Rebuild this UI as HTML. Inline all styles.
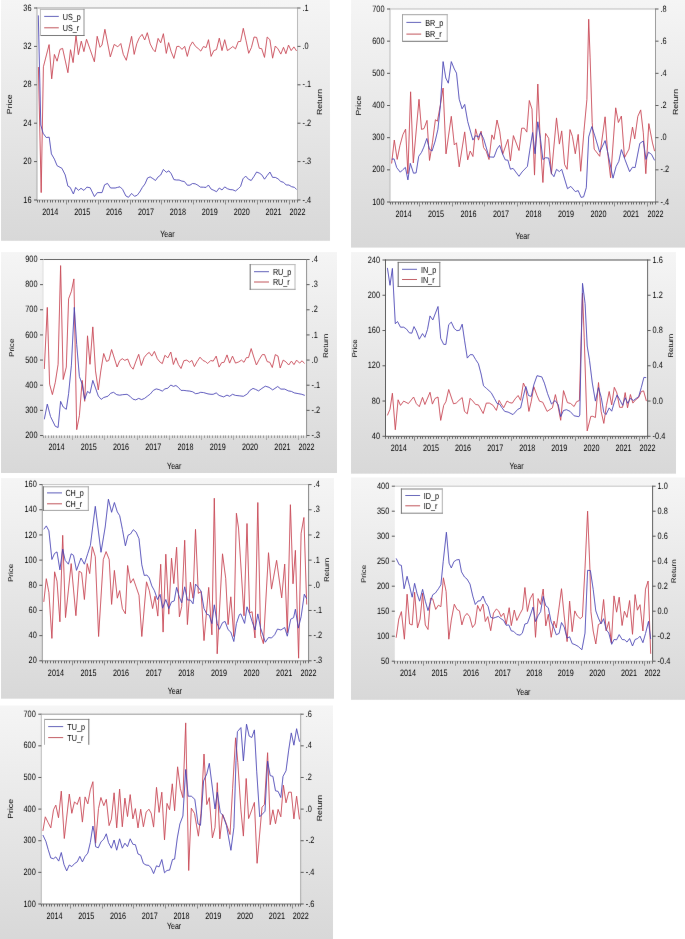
<!DOCTYPE html>
<html><head><meta charset="utf-8"><style>
html,body{margin:0;padding:0;background:#fff;width:685px;height:939px;overflow:hidden}
svg{display:block;font-family:"Liberation Sans", sans-serif}
text{text-rendering:geometricPrecision}
</style></head><body>
<svg width="685" height="939" viewBox="0 0 685 939">
<defs><filter id="bl" x="0" y="0" width="100%" height="100%" filterUnits="userSpaceOnUse"><feConvolveMatrix order="3" kernelMatrix="0.00087 0.02776 0.00087 0.02776 0.88549 0.02776 0.00087 0.02776 0.00087" edgeMode="duplicate" preserveAlpha="true"/></filter><filter id="bl2" x="0" y="0" width="100%" height="100%" filterUnits="userSpaceOnUse"><feConvolveMatrix order="3" kernelMatrix="0.00163 0.03713 0.00163 0.03713 0.84497 0.03713 0.00163 0.03713 0.00163" edgeMode="none" preserveAlpha="false"/></filter><linearGradient id="g" x1="0" y1="0" x2="0" y2="1"><stop offset="0" stop-color="#f5f5f5"/><stop offset="1" stop-color="#d8d8d8"/></linearGradient></defs>
<g filter="url(#bl)">
<rect x="0" y="0" width="685" height="939" fill="#fff"/>
<rect x="1" y="0" width="329" height="240.8" fill="url(#g)"/>
<rect x="37" y="8" width="260.50" height="192.00" fill="#fff"/>
<clipPath id="c0"><rect x="37" y="8" width="260.50" height="192.00"/></clipPath>
<polyline clip-path="url(#c0)" points="38.4,67.0 41.2,192.6 43.4,66.8 49.1,44.6 51.7,78.9 54.4,54.4 57.1,61.2 60.0,49.4 62.6,48.4 67.9,72.7 70.5,49.7 73.1,62.6 76.0,35.5 78.4,54.7 81.3,41.1 83.9,51.6 86.5,39.2 90.2,49.7 94.4,61.8 97.2,36.3 100.0,47.3 102.0,45.0 104.9,29.3 110.3,56.9 114.2,44.4 117.8,46.8 120.8,43.5 123.3,54.4 126.3,60.3 131.6,36.3 134.2,54.4 136.8,43.6 139.4,37.6 142.1,34.4 144.7,40.0 147.3,32.7 150.2,43.9 152.9,49.2 155.2,51.8 158.1,38.4 160.7,42.9 163.4,33.7 166.3,53.4 168.6,42.6 171.2,51.8 173.9,58.4 176.8,46.5 179.1,46.3 182.0,49.4 184.7,46.3 187.3,56.4 189.9,46.3 192.5,41.9 195.6,46.5 198.2,48.5 200.8,51.1 203.4,46.5 206.1,47.6 208.5,39.7 211.1,56.4 213.8,50.6 216.5,49.6 219.3,38.1 222.0,50.6 224.7,39.7 227.4,50.6 230.1,48.7 232.8,46.5 235.5,48.9 238.3,41.5 240.6,41.5 243.3,28.3 246.0,40.5 248.7,53.3 251.4,47.6 254.1,37.0 256.6,37.4 259.3,48.3 261.7,48.7 264.5,57.4 267.2,37.0 269.9,39.7 272.6,58.2 275.3,46.0 278.0,48.9 280.8,54.1 283.5,47.3 285.9,53.7 288.5,45.1 291.2,50.6 293.9,46.9 296.6,51.0" fill="none" stroke="#c43444" stroke-width="0.85" stroke-linejoin="round"/>
<polyline clip-path="url(#c0)" points="38.3,15.4 40.8,125.0 43.1,133.2 46.2,137.5 49.2,137.2 51.4,153.9 54.4,159.1 57.1,165.7 61.9,168.3 65.2,174.9 67.9,186.1 70.2,187.4 73.4,194.0 75.7,187.4 78.4,190.4 81.0,188.3 83.9,190.4 86.9,187.1 90.2,187.8 94.4,196.6 97.4,192.6 102.0,192.6 104.6,184.8 107.5,183.4 110.6,188.0 115.2,188.0 117.5,187.4 120.0,186.8 122.6,189.4 125.9,196.0 128.5,197.3 131.6,193.4 134.5,196.3 137.1,195.3 139.7,192.0 142.3,187.5 145.0,183.9 147.6,177.9 150.2,176.9 152.9,178.6 155.5,180.5 158.1,176.9 160.7,175.0 163.4,169.4 166.3,172.3 168.9,170.8 171.2,173.7 173.9,179.6 176.5,180.0 179.1,180.0 181.8,181.1 184.4,181.5 187.3,185.2 189.9,185.2 192.5,183.5 195.2,183.8 197.8,185.2 200.4,187.1 203.4,187.2 206.1,187.4 208.4,185.0 211.1,189.1 213.8,190.3 216.5,191.7 219.3,188.0 222.0,190.0 224.7,186.9 227.4,188.7 230.1,189.6 232.8,189.8 235.5,191.0 238.3,188.7 240.6,186.4 243.0,178.8 245.7,176.1 248.4,179.2 251.2,180.5 253.9,176.5 256.6,172.0 259.3,173.1 261.7,174.7 264.5,179.2 267.2,175.5 269.9,172.0 272.6,177.4 275.3,177.4 278.0,178.8 280.8,181.5 283.5,182.3 286.2,185.0 288.9,185.0 291.6,186.7 294.3,187.3 296.6,189.4" fill="none" stroke="#3a34b0" stroke-width="0.85" stroke-linejoin="round"/>
<line x1="37" y1="8" x2="297.5" y2="8" stroke="#a0a0a0" stroke-width="1" stroke-linecap="square"/>
<line x1="297.5" y1="8" x2="297.5" y2="200" stroke="#b8b8b8" stroke-width="1" stroke-linecap="square"/>
<line x1="37" y1="200" x2="297.5" y2="200" stroke="#a8a8a8" stroke-width="1" stroke-linecap="square"/>
<line x1="37" y1="8" x2="37" y2="200" stroke="#aaaaaa" stroke-width="1" stroke-linecap="square"/>
<line x1="34" y1="8.00" x2="37" y2="8.00" stroke="#555" stroke-width="1"/>

<line x1="34" y1="46.40" x2="37" y2="46.40" stroke="#555" stroke-width="1"/>

<line x1="34" y1="84.80" x2="37" y2="84.80" stroke="#555" stroke-width="1"/>

<line x1="34" y1="123.20" x2="37" y2="123.20" stroke="#555" stroke-width="1"/>

<line x1="34" y1="161.60" x2="37" y2="161.60" stroke="#555" stroke-width="1"/>

<line x1="34" y1="200.00" x2="37" y2="200.00" stroke="#555" stroke-width="1"/>

<line x1="297.5" y1="8.00" x2="300.5" y2="8.00" stroke="#555" stroke-width="1"/>

<line x1="297.5" y1="46.40" x2="300.5" y2="46.40" stroke="#555" stroke-width="1"/>

<line x1="297.5" y1="84.80" x2="300.5" y2="84.80" stroke="#555" stroke-width="1"/>

<line x1="297.5" y1="123.20" x2="300.5" y2="123.20" stroke="#555" stroke-width="1"/>

<line x1="297.5" y1="161.60" x2="300.5" y2="161.60" stroke="#555" stroke-width="1"/>

<line x1="297.5" y1="200.00" x2="300.5" y2="200.00" stroke="#555" stroke-width="1"/>

<line x1="37.50" y1="200" x2="37.50" y2="202.5" stroke="#666" stroke-width="1"/>
<line x1="39.50" y1="200" x2="39.50" y2="202.5" stroke="#666" stroke-width="1"/>
<line x1="42.50" y1="200" x2="42.50" y2="202.5" stroke="#666" stroke-width="1"/>
<line x1="44.50" y1="200" x2="44.50" y2="202.5" stroke="#666" stroke-width="1"/>
<line x1="47.50" y1="200" x2="47.50" y2="202.5" stroke="#666" stroke-width="1"/>
<line x1="50.50" y1="200" x2="50.50" y2="202.5" stroke="#666" stroke-width="1"/>
<line x1="52.50" y1="200" x2="52.50" y2="202.5" stroke="#666" stroke-width="1"/>
<line x1="55.50" y1="200" x2="55.50" y2="202.5" stroke="#666" stroke-width="1"/>
<line x1="58.50" y1="200" x2="58.50" y2="202.5" stroke="#666" stroke-width="1"/>
<line x1="60.50" y1="200" x2="60.50" y2="202.5" stroke="#666" stroke-width="1"/>
<line x1="63.50" y1="200" x2="63.50" y2="202.5" stroke="#666" stroke-width="1"/>
<line x1="66.50" y1="200" x2="66.50" y2="204.5" stroke="#8a8a8a" stroke-width="1"/>
<line x1="68.50" y1="200" x2="68.50" y2="202.5" stroke="#666" stroke-width="1"/>
<line x1="71.50" y1="200" x2="71.50" y2="202.5" stroke="#666" stroke-width="1"/>
<line x1="74.50" y1="200" x2="74.50" y2="202.5" stroke="#666" stroke-width="1"/>
<line x1="76.50" y1="200" x2="76.50" y2="202.5" stroke="#666" stroke-width="1"/>
<line x1="79.50" y1="200" x2="79.50" y2="202.5" stroke="#666" stroke-width="1"/>
<line x1="82.50" y1="200" x2="82.50" y2="202.5" stroke="#666" stroke-width="1"/>
<line x1="84.50" y1="200" x2="84.50" y2="202.5" stroke="#666" stroke-width="1"/>
<line x1="87.50" y1="200" x2="87.50" y2="202.5" stroke="#666" stroke-width="1"/>
<line x1="90.50" y1="200" x2="90.50" y2="202.5" stroke="#666" stroke-width="1"/>
<line x1="92.50" y1="200" x2="92.50" y2="202.5" stroke="#666" stroke-width="1"/>
<line x1="95.50" y1="200" x2="95.50" y2="202.5" stroke="#666" stroke-width="1"/>
<line x1="98.50" y1="200" x2="98.50" y2="204.5" stroke="#8a8a8a" stroke-width="1"/>
<line x1="100.50" y1="200" x2="100.50" y2="202.5" stroke="#666" stroke-width="1"/>
<line x1="103.50" y1="200" x2="103.50" y2="202.5" stroke="#666" stroke-width="1"/>
<line x1="106.50" y1="200" x2="106.50" y2="202.5" stroke="#666" stroke-width="1"/>
<line x1="108.50" y1="200" x2="108.50" y2="202.5" stroke="#666" stroke-width="1"/>
<line x1="111.50" y1="200" x2="111.50" y2="202.5" stroke="#666" stroke-width="1"/>
<line x1="114.50" y1="200" x2="114.50" y2="202.5" stroke="#666" stroke-width="1"/>
<line x1="116.50" y1="200" x2="116.50" y2="202.5" stroke="#666" stroke-width="1"/>
<line x1="119.50" y1="200" x2="119.50" y2="202.5" stroke="#666" stroke-width="1"/>
<line x1="122.50" y1="200" x2="122.50" y2="202.5" stroke="#666" stroke-width="1"/>
<line x1="124.50" y1="200" x2="124.50" y2="202.5" stroke="#666" stroke-width="1"/>
<line x1="127.50" y1="200" x2="127.50" y2="202.5" stroke="#666" stroke-width="1"/>
<line x1="130.50" y1="200" x2="130.50" y2="204.5" stroke="#8a8a8a" stroke-width="1"/>
<line x1="132.50" y1="200" x2="132.50" y2="202.5" stroke="#666" stroke-width="1"/>
<line x1="135.50" y1="200" x2="135.50" y2="202.5" stroke="#666" stroke-width="1"/>
<line x1="138.50" y1="200" x2="138.50" y2="202.5" stroke="#666" stroke-width="1"/>
<line x1="140.50" y1="200" x2="140.50" y2="202.5" stroke="#666" stroke-width="1"/>
<line x1="143.50" y1="200" x2="143.50" y2="202.5" stroke="#666" stroke-width="1"/>
<line x1="145.50" y1="200" x2="145.50" y2="202.5" stroke="#666" stroke-width="1"/>
<line x1="148.50" y1="200" x2="148.50" y2="202.5" stroke="#666" stroke-width="1"/>
<line x1="151.50" y1="200" x2="151.50" y2="202.5" stroke="#666" stroke-width="1"/>
<line x1="153.50" y1="200" x2="153.50" y2="202.5" stroke="#666" stroke-width="1"/>
<line x1="156.50" y1="200" x2="156.50" y2="202.5" stroke="#666" stroke-width="1"/>
<line x1="159.50" y1="200" x2="159.50" y2="202.5" stroke="#666" stroke-width="1"/>
<line x1="161.50" y1="200" x2="161.50" y2="204.5" stroke="#8a8a8a" stroke-width="1"/>
<line x1="164.50" y1="200" x2="164.50" y2="202.5" stroke="#666" stroke-width="1"/>
<line x1="167.50" y1="200" x2="167.50" y2="202.5" stroke="#666" stroke-width="1"/>
<line x1="169.50" y1="200" x2="169.50" y2="202.5" stroke="#666" stroke-width="1"/>
<line x1="172.50" y1="200" x2="172.50" y2="202.5" stroke="#666" stroke-width="1"/>
<line x1="175.50" y1="200" x2="175.50" y2="202.5" stroke="#666" stroke-width="1"/>
<line x1="177.50" y1="200" x2="177.50" y2="202.5" stroke="#666" stroke-width="1"/>
<line x1="180.50" y1="200" x2="180.50" y2="202.5" stroke="#666" stroke-width="1"/>
<line x1="183.50" y1="200" x2="183.50" y2="202.5" stroke="#666" stroke-width="1"/>
<line x1="185.50" y1="200" x2="185.50" y2="202.5" stroke="#666" stroke-width="1"/>
<line x1="188.50" y1="200" x2="188.50" y2="202.5" stroke="#666" stroke-width="1"/>
<line x1="191.50" y1="200" x2="191.50" y2="202.5" stroke="#666" stroke-width="1"/>
<line x1="193.50" y1="200" x2="193.50" y2="204.5" stroke="#8a8a8a" stroke-width="1"/>
<line x1="196.50" y1="200" x2="196.50" y2="202.5" stroke="#666" stroke-width="1"/>
<line x1="199.50" y1="200" x2="199.50" y2="202.5" stroke="#666" stroke-width="1"/>
<line x1="201.50" y1="200" x2="201.50" y2="202.5" stroke="#666" stroke-width="1"/>
<line x1="204.50" y1="200" x2="204.50" y2="202.5" stroke="#666" stroke-width="1"/>
<line x1="207.50" y1="200" x2="207.50" y2="202.5" stroke="#666" stroke-width="1"/>
<line x1="209.50" y1="200" x2="209.50" y2="202.5" stroke="#666" stroke-width="1"/>
<line x1="212.50" y1="200" x2="212.50" y2="202.5" stroke="#666" stroke-width="1"/>
<line x1="215.50" y1="200" x2="215.50" y2="202.5" stroke="#666" stroke-width="1"/>
<line x1="217.50" y1="200" x2="217.50" y2="202.5" stroke="#666" stroke-width="1"/>
<line x1="220.50" y1="200" x2="220.50" y2="202.5" stroke="#666" stroke-width="1"/>
<line x1="223.50" y1="200" x2="223.50" y2="202.5" stroke="#666" stroke-width="1"/>
<line x1="225.50" y1="200" x2="225.50" y2="204.5" stroke="#8a8a8a" stroke-width="1"/>
<line x1="228.50" y1="200" x2="228.50" y2="202.5" stroke="#666" stroke-width="1"/>
<line x1="231.50" y1="200" x2="231.50" y2="202.5" stroke="#666" stroke-width="1"/>
<line x1="233.50" y1="200" x2="233.50" y2="202.5" stroke="#666" stroke-width="1"/>
<line x1="236.50" y1="200" x2="236.50" y2="202.5" stroke="#666" stroke-width="1"/>
<line x1="239.50" y1="200" x2="239.50" y2="202.5" stroke="#666" stroke-width="1"/>
<line x1="241.50" y1="200" x2="241.50" y2="202.5" stroke="#666" stroke-width="1"/>
<line x1="244.50" y1="200" x2="244.50" y2="202.5" stroke="#666" stroke-width="1"/>
<line x1="246.50" y1="200" x2="246.50" y2="202.5" stroke="#666" stroke-width="1"/>
<line x1="249.50" y1="200" x2="249.50" y2="202.5" stroke="#666" stroke-width="1"/>
<line x1="252.50" y1="200" x2="252.50" y2="202.5" stroke="#666" stroke-width="1"/>
<line x1="254.50" y1="200" x2="254.50" y2="202.5" stroke="#666" stroke-width="1"/>
<line x1="257.50" y1="200" x2="257.50" y2="204.5" stroke="#8a8a8a" stroke-width="1"/>
<line x1="260.50" y1="200" x2="260.50" y2="202.5" stroke="#666" stroke-width="1"/>
<line x1="262.50" y1="200" x2="262.50" y2="202.5" stroke="#666" stroke-width="1"/>
<line x1="265.50" y1="200" x2="265.50" y2="202.5" stroke="#666" stroke-width="1"/>
<line x1="268.50" y1="200" x2="268.50" y2="202.5" stroke="#666" stroke-width="1"/>
<line x1="270.50" y1="200" x2="270.50" y2="202.5" stroke="#666" stroke-width="1"/>
<line x1="273.50" y1="200" x2="273.50" y2="202.5" stroke="#666" stroke-width="1"/>
<line x1="276.50" y1="200" x2="276.50" y2="202.5" stroke="#666" stroke-width="1"/>
<line x1="278.50" y1="200" x2="278.50" y2="202.5" stroke="#666" stroke-width="1"/>
<line x1="281.50" y1="200" x2="281.50" y2="202.5" stroke="#666" stroke-width="1"/>
<line x1="284.50" y1="200" x2="284.50" y2="202.5" stroke="#666" stroke-width="1"/>
<line x1="286.50" y1="200" x2="286.50" y2="202.5" stroke="#666" stroke-width="1"/>
<line x1="289.50" y1="200" x2="289.50" y2="204.5" stroke="#8a8a8a" stroke-width="1"/>
<line x1="292.50" y1="200" x2="292.50" y2="202.5" stroke="#666" stroke-width="1"/>
<line x1="294.50" y1="200" x2="294.50" y2="202.5" stroke="#666" stroke-width="1"/>
<line x1="297.50" y1="200" x2="297.50" y2="202.5" stroke="#666" stroke-width="1"/>












<rect x="40.4" y="9.4" width="43.60" height="26.10" fill="#fff"/>
<line x1="40.4" y1="9.4" x2="84" y2="9.4" stroke="#b8b8b8" stroke-width="1" stroke-linecap="square"/>
<line x1="84" y1="9.4" x2="84" y2="35.5" stroke="#909090" stroke-width="1" stroke-linecap="square"/>
<line x1="40.4" y1="35.5" x2="84" y2="35.5" stroke="#707070" stroke-width="1" stroke-linecap="square"/>
<line x1="40.4" y1="9.4" x2="40.4" y2="35.5" stroke="#b8b8b8" stroke-width="1" stroke-linecap="square"/>
<line x1="44.2" y1="16.4" x2="58.8" y2="16.4" stroke="#5a5ab8" stroke-width="1"/>
<line x1="44.2" y1="27.8" x2="58.8" y2="27.8" stroke="#c05058" stroke-width="1"/>


<rect x="351" y="0" width="334" height="247.6" fill="url(#g)"/>
<rect x="390" y="9" width="265.50" height="193.00" fill="#fff"/>
<clipPath id="c1"><rect x="390" y="9" width="265.50" height="193.00"/></clipPath>
<polyline clip-path="url(#c1)" points="391.6,163.5 394.3,140.0 397.2,159.4 399.9,145.7 402.9,134.6 405.6,129.1 407.9,173.7 410.6,91.8 413.3,163.0 419.0,99.3 421.5,129.4 424.0,128.6 427.0,120.4 429.5,160.5 432.4,142.8 435.4,119.7 437.4,121.2 440.4,104.8 443.1,88.0 446.0,153.9 451.3,116.3 454.3,145.0 456.5,142.8 459.2,166.9 464.7,131.9 467.7,159.9 470.2,151.0 472.9,156.5 475.6,128.9 478.5,140.1 481.1,131.2 483.6,147.6 486.3,151.3 489.0,159.5 491.9,134.9 494.0,139.4 497.0,120.0 499.7,131.2 502.7,154.3 507.9,139.4 510.4,161.0 513.4,135.6 519.0,150.5 521.7,128.2 524.3,128.2 526.8,132.1 529.3,100.5 532.0,109.2 534.5,175.1 537.8,84.0 540.4,144.1 542.9,182.5 545.6,133.4 548.7,138.3 551.4,174.2 556.5,117.9 559.4,144.1 561.7,130.9 564.6,164.5 567.1,169.3 570.0,129.6 572.4,136.3 575.3,153.8 578.2,134.4 580.7,171.3 584.0,130.5 586.9,99.5 588.7,19.2 590.1,57.1 592.2,122.5 594.2,149.1 599.7,156.3 605.1,116.8 607.5,151.2 610.6,177.8 615.7,107.8 618.4,122.5 621.4,116.0 624.5,157.7 629.0,149.1 632.5,127.0 634.7,138.9 637.8,116.4 640.7,109.9 643.3,132.8 645.8,173.7 648.8,123.6 652.5,143.0 654.6,151.2" fill="none" stroke="#c43444" stroke-width="0.85" stroke-linejoin="round"/>
<polyline clip-path="url(#c1)" points="391.7,159.2 394.1,158.9 396.7,167.6 400.3,172.2 402.9,169.6 405.4,167.4 407.9,179.9 410.3,163.3 413.5,173.2 416.1,172.9 418.7,156.4 421.5,152.4 423.8,147.2 426.8,138.5 429.4,149.2 432.1,151.0 435.2,141.0 437.9,129.4 440.4,105.5 443.1,61.6 445.8,78.0 448.3,83.2 451.3,61.6 454.3,69.0 456.5,73.1 459.2,99.2 462.1,108.8 464.7,104.4 467.7,121.5 472.9,140.1 475.6,135.6 478.5,137.1 480.6,132.7 483.6,138.6 489.0,156.9 494.0,157.2 497.0,149.0 499.7,145.3 502.7,154.3 505.3,159.9 507.9,160.2 510.4,169.2 513.1,168.4 519.0,176.3 522.0,172.0 527.4,166.4 529.7,150.9 532.6,132.5 535.1,153.8 537.8,121.8 540.4,138.3 542.9,159.6 545.6,157.7 548.7,158.1 551.4,173.2 553.9,176.7 556.5,169.3 559.4,171.6 561.7,169.3 567.5,188.7 570.8,186.4 575.3,191.6 578.2,190.6 581.1,197.4 583.6,196.8 586.3,187.7 588.7,136.9 591.8,126.6 594.8,135.8 599.7,152.2 605.1,140.6 607.9,153.2 613.0,178.2 616.1,166.5 618.8,161.4 621.4,149.6 624.9,159.4 629.6,171.7 632.5,167.2 635.1,167.6 639.8,143.4 643.3,141.0 646.0,159.4 648.4,152.2 651.5,154.3 654.6,160.4" fill="none" stroke="#3a34b0" stroke-width="0.85" stroke-linejoin="round"/>
<line x1="390" y1="9" x2="655.5" y2="9" stroke="#bdbdbd" stroke-width="1" stroke-linecap="square"/>
<line x1="655.5" y1="9" x2="655.5" y2="202" stroke="#999999" stroke-width="1" stroke-linecap="square"/>
<line x1="390" y1="202" x2="655.5" y2="202" stroke="#666666" stroke-width="1" stroke-linecap="square"/>
<line x1="390" y1="9" x2="390" y2="202" stroke="#bbbbbb" stroke-width="1" stroke-linecap="square"/>
<line x1="387" y1="9.00" x2="390" y2="9.00" stroke="#555" stroke-width="1"/>

<line x1="387" y1="41.17" x2="390" y2="41.17" stroke="#555" stroke-width="1"/>

<line x1="387" y1="73.33" x2="390" y2="73.33" stroke="#555" stroke-width="1"/>

<line x1="387" y1="105.50" x2="390" y2="105.50" stroke="#555" stroke-width="1"/>

<line x1="387" y1="137.67" x2="390" y2="137.67" stroke="#555" stroke-width="1"/>

<line x1="387" y1="169.83" x2="390" y2="169.83" stroke="#555" stroke-width="1"/>

<line x1="387" y1="202.00" x2="390" y2="202.00" stroke="#555" stroke-width="1"/>

<line x1="655.5" y1="9.00" x2="658.5" y2="9.00" stroke="#555" stroke-width="1"/>

<line x1="655.5" y1="41.17" x2="658.5" y2="41.17" stroke="#555" stroke-width="1"/>

<line x1="655.5" y1="73.33" x2="658.5" y2="73.33" stroke="#555" stroke-width="1"/>

<line x1="655.5" y1="105.50" x2="658.5" y2="105.50" stroke="#555" stroke-width="1"/>

<line x1="655.5" y1="137.67" x2="658.5" y2="137.67" stroke="#555" stroke-width="1"/>

<line x1="655.5" y1="169.83" x2="658.5" y2="169.83" stroke="#555" stroke-width="1"/>

<line x1="655.5" y1="202.00" x2="658.5" y2="202.00" stroke="#555" stroke-width="1"/>

<line x1="390.50" y1="202" x2="390.50" y2="204.5" stroke="#666" stroke-width="1"/>
<line x1="392.50" y1="202" x2="392.50" y2="204.5" stroke="#666" stroke-width="1"/>
<line x1="395.50" y1="202" x2="395.50" y2="204.5" stroke="#666" stroke-width="1"/>
<line x1="398.50" y1="202" x2="398.50" y2="204.5" stroke="#666" stroke-width="1"/>
<line x1="400.50" y1="202" x2="400.50" y2="204.5" stroke="#666" stroke-width="1"/>
<line x1="403.50" y1="202" x2="403.50" y2="204.5" stroke="#666" stroke-width="1"/>
<line x1="406.50" y1="202" x2="406.50" y2="204.5" stroke="#666" stroke-width="1"/>
<line x1="408.50" y1="202" x2="408.50" y2="204.5" stroke="#666" stroke-width="1"/>
<line x1="411.50" y1="202" x2="411.50" y2="204.5" stroke="#666" stroke-width="1"/>
<line x1="414.50" y1="202" x2="414.50" y2="204.5" stroke="#666" stroke-width="1"/>
<line x1="417.50" y1="202" x2="417.50" y2="204.5" stroke="#666" stroke-width="1"/>
<line x1="419.50" y1="202" x2="419.50" y2="206.5" stroke="#8a8a8a" stroke-width="1"/>
<line x1="422.50" y1="202" x2="422.50" y2="204.5" stroke="#666" stroke-width="1"/>
<line x1="425.50" y1="202" x2="425.50" y2="204.5" stroke="#666" stroke-width="1"/>
<line x1="427.50" y1="202" x2="427.50" y2="204.5" stroke="#666" stroke-width="1"/>
<line x1="430.50" y1="202" x2="430.50" y2="204.5" stroke="#666" stroke-width="1"/>
<line x1="433.50" y1="202" x2="433.50" y2="204.5" stroke="#666" stroke-width="1"/>
<line x1="436.50" y1="202" x2="436.50" y2="204.5" stroke="#666" stroke-width="1"/>
<line x1="438.50" y1="202" x2="438.50" y2="204.5" stroke="#666" stroke-width="1"/>
<line x1="441.50" y1="202" x2="441.50" y2="204.5" stroke="#666" stroke-width="1"/>
<line x1="444.50" y1="202" x2="444.50" y2="204.5" stroke="#666" stroke-width="1"/>
<line x1="446.50" y1="202" x2="446.50" y2="204.5" stroke="#666" stroke-width="1"/>
<line x1="449.50" y1="202" x2="449.50" y2="204.5" stroke="#666" stroke-width="1"/>
<line x1="452.50" y1="202" x2="452.50" y2="206.5" stroke="#8a8a8a" stroke-width="1"/>
<line x1="455.50" y1="202" x2="455.50" y2="204.5" stroke="#666" stroke-width="1"/>
<line x1="457.50" y1="202" x2="457.50" y2="204.5" stroke="#666" stroke-width="1"/>
<line x1="460.50" y1="202" x2="460.50" y2="204.5" stroke="#666" stroke-width="1"/>
<line x1="463.50" y1="202" x2="463.50" y2="204.5" stroke="#666" stroke-width="1"/>
<line x1="465.50" y1="202" x2="465.50" y2="204.5" stroke="#666" stroke-width="1"/>
<line x1="468.50" y1="202" x2="468.50" y2="204.5" stroke="#666" stroke-width="1"/>
<line x1="471.50" y1="202" x2="471.50" y2="204.5" stroke="#666" stroke-width="1"/>
<line x1="473.50" y1="202" x2="473.50" y2="204.5" stroke="#666" stroke-width="1"/>
<line x1="476.50" y1="202" x2="476.50" y2="204.5" stroke="#666" stroke-width="1"/>
<line x1="479.50" y1="202" x2="479.50" y2="204.5" stroke="#666" stroke-width="1"/>
<line x1="482.50" y1="202" x2="482.50" y2="204.5" stroke="#666" stroke-width="1"/>
<line x1="484.50" y1="202" x2="484.50" y2="206.5" stroke="#8a8a8a" stroke-width="1"/>
<line x1="487.50" y1="202" x2="487.50" y2="204.5" stroke="#666" stroke-width="1"/>
<line x1="490.50" y1="202" x2="490.50" y2="204.5" stroke="#666" stroke-width="1"/>
<line x1="492.50" y1="202" x2="492.50" y2="204.5" stroke="#666" stroke-width="1"/>
<line x1="495.50" y1="202" x2="495.50" y2="204.5" stroke="#666" stroke-width="1"/>
<line x1="498.50" y1="202" x2="498.50" y2="204.5" stroke="#666" stroke-width="1"/>
<line x1="501.50" y1="202" x2="501.50" y2="204.5" stroke="#666" stroke-width="1"/>
<line x1="503.50" y1="202" x2="503.50" y2="204.5" stroke="#666" stroke-width="1"/>
<line x1="506.50" y1="202" x2="506.50" y2="204.5" stroke="#666" stroke-width="1"/>
<line x1="509.50" y1="202" x2="509.50" y2="204.5" stroke="#666" stroke-width="1"/>
<line x1="511.50" y1="202" x2="511.50" y2="204.5" stroke="#666" stroke-width="1"/>
<line x1="514.50" y1="202" x2="514.50" y2="204.5" stroke="#666" stroke-width="1"/>
<line x1="517.50" y1="202" x2="517.50" y2="206.5" stroke="#8a8a8a" stroke-width="1"/>
<line x1="520.50" y1="202" x2="520.50" y2="204.5" stroke="#666" stroke-width="1"/>
<line x1="522.50" y1="202" x2="522.50" y2="204.5" stroke="#666" stroke-width="1"/>
<line x1="525.50" y1="202" x2="525.50" y2="204.5" stroke="#666" stroke-width="1"/>
<line x1="528.50" y1="202" x2="528.50" y2="204.5" stroke="#666" stroke-width="1"/>
<line x1="530.50" y1="202" x2="530.50" y2="204.5" stroke="#666" stroke-width="1"/>
<line x1="533.50" y1="202" x2="533.50" y2="204.5" stroke="#666" stroke-width="1"/>
<line x1="536.50" y1="202" x2="536.50" y2="204.5" stroke="#666" stroke-width="1"/>
<line x1="539.50" y1="202" x2="539.50" y2="204.5" stroke="#666" stroke-width="1"/>
<line x1="541.50" y1="202" x2="541.50" y2="204.5" stroke="#666" stroke-width="1"/>
<line x1="544.50" y1="202" x2="544.50" y2="204.5" stroke="#666" stroke-width="1"/>
<line x1="547.50" y1="202" x2="547.50" y2="204.5" stroke="#666" stroke-width="1"/>
<line x1="549.50" y1="202" x2="549.50" y2="206.5" stroke="#8a8a8a" stroke-width="1"/>
<line x1="552.50" y1="202" x2="552.50" y2="204.5" stroke="#666" stroke-width="1"/>
<line x1="555.50" y1="202" x2="555.50" y2="204.5" stroke="#666" stroke-width="1"/>
<line x1="557.50" y1="202" x2="557.50" y2="204.5" stroke="#666" stroke-width="1"/>
<line x1="560.50" y1="202" x2="560.50" y2="204.5" stroke="#666" stroke-width="1"/>
<line x1="563.50" y1="202" x2="563.50" y2="204.5" stroke="#666" stroke-width="1"/>
<line x1="566.50" y1="202" x2="566.50" y2="204.5" stroke="#666" stroke-width="1"/>
<line x1="568.50" y1="202" x2="568.50" y2="204.5" stroke="#666" stroke-width="1"/>
<line x1="571.50" y1="202" x2="571.50" y2="204.5" stroke="#666" stroke-width="1"/>
<line x1="574.50" y1="202" x2="574.50" y2="204.5" stroke="#666" stroke-width="1"/>
<line x1="576.50" y1="202" x2="576.50" y2="204.5" stroke="#666" stroke-width="1"/>
<line x1="579.50" y1="202" x2="579.50" y2="204.5" stroke="#666" stroke-width="1"/>
<line x1="582.50" y1="202" x2="582.50" y2="206.5" stroke="#8a8a8a" stroke-width="1"/>
<line x1="585.50" y1="202" x2="585.50" y2="204.5" stroke="#666" stroke-width="1"/>
<line x1="587.50" y1="202" x2="587.50" y2="204.5" stroke="#666" stroke-width="1"/>
<line x1="590.50" y1="202" x2="590.50" y2="204.5" stroke="#666" stroke-width="1"/>
<line x1="593.50" y1="202" x2="593.50" y2="204.5" stroke="#666" stroke-width="1"/>
<line x1="595.50" y1="202" x2="595.50" y2="204.5" stroke="#666" stroke-width="1"/>
<line x1="598.50" y1="202" x2="598.50" y2="204.5" stroke="#666" stroke-width="1"/>
<line x1="601.50" y1="202" x2="601.50" y2="204.5" stroke="#666" stroke-width="1"/>
<line x1="604.50" y1="202" x2="604.50" y2="204.5" stroke="#666" stroke-width="1"/>
<line x1="606.50" y1="202" x2="606.50" y2="204.5" stroke="#666" stroke-width="1"/>
<line x1="609.50" y1="202" x2="609.50" y2="204.5" stroke="#666" stroke-width="1"/>
<line x1="612.50" y1="202" x2="612.50" y2="204.5" stroke="#666" stroke-width="1"/>
<line x1="614.50" y1="202" x2="614.50" y2="206.5" stroke="#8a8a8a" stroke-width="1"/>
<line x1="617.50" y1="202" x2="617.50" y2="204.5" stroke="#666" stroke-width="1"/>
<line x1="620.50" y1="202" x2="620.50" y2="204.5" stroke="#666" stroke-width="1"/>
<line x1="622.50" y1="202" x2="622.50" y2="204.5" stroke="#666" stroke-width="1"/>
<line x1="625.50" y1="202" x2="625.50" y2="204.5" stroke="#666" stroke-width="1"/>
<line x1="628.50" y1="202" x2="628.50" y2="204.5" stroke="#666" stroke-width="1"/>
<line x1="631.50" y1="202" x2="631.50" y2="204.5" stroke="#666" stroke-width="1"/>
<line x1="633.50" y1="202" x2="633.50" y2="204.5" stroke="#666" stroke-width="1"/>
<line x1="636.50" y1="202" x2="636.50" y2="204.5" stroke="#666" stroke-width="1"/>
<line x1="639.50" y1="202" x2="639.50" y2="204.5" stroke="#666" stroke-width="1"/>
<line x1="641.50" y1="202" x2="641.50" y2="204.5" stroke="#666" stroke-width="1"/>
<line x1="644.50" y1="202" x2="644.50" y2="204.5" stroke="#666" stroke-width="1"/>
<line x1="647.50" y1="202" x2="647.50" y2="206.5" stroke="#8a8a8a" stroke-width="1"/>
<line x1="650.50" y1="202" x2="650.50" y2="204.5" stroke="#666" stroke-width="1"/>
<line x1="652.50" y1="202" x2="652.50" y2="204.5" stroke="#666" stroke-width="1"/>
<line x1="655.50" y1="202" x2="655.50" y2="204.5" stroke="#666" stroke-width="1"/>












<rect x="402.5" y="14.7" width="44.70" height="26.60" fill="#fff"/>
<line x1="402.5" y1="14.7" x2="447.2" y2="14.7" stroke="#a0a0a0" stroke-width="1" stroke-linecap="square"/>
<line x1="447.2" y1="14.7" x2="447.2" y2="41.3" stroke="#b0b0b0" stroke-width="1" stroke-linecap="square"/>
<line x1="402.5" y1="41.3" x2="447.2" y2="41.3" stroke="#707070" stroke-width="1" stroke-linecap="square"/>
<line x1="402.5" y1="14.7" x2="402.5" y2="41.3" stroke="#a0a0a0" stroke-width="1" stroke-linecap="square"/>
<line x1="406.4" y1="22.4" x2="421.2" y2="22.4" stroke="#5a5ab8" stroke-width="1"/>
<line x1="406.4" y1="34.1" x2="421.2" y2="34.1" stroke="#c05058" stroke-width="1"/>


<rect x="1" y="252" width="336" height="221" fill="url(#g)"/>
<rect x="43" y="259.5" width="263.60" height="176.00" fill="#fff"/>
<clipPath id="c2"><rect x="43" y="259.5" width="263.60" height="176.00"/></clipPath>
<polyline clip-path="url(#c2)" points="44.3,369.0 47.3,307.4 49.6,384.2 52.4,394.6 55.3,382.3 58.1,364.3 60.6,265.6 63.2,379.5 66.3,367.1 68.6,298.8 71.4,291.3 73.9,278.9 76.7,429.7 79.4,415.5 82.2,380.4 84.7,401.3 87.5,335.8 90.0,364.3 92.8,326.9 95.5,370.9 98.3,389.9 100.8,370.9 103.7,353.5 106.5,361.4 108.8,360.5 111.6,349.5 114.6,359.0 117.1,367.0 119.7,360.7 122.3,358.7 124.8,360.4 127.7,359.0 130.6,366.3 133.1,369.2 135.7,361.9 138.7,354.3 141.3,365.5 144.2,357.5 146.7,354.3 149.2,352.4 151.8,356.1 154.4,351.4 157.3,358.7 159.8,361.9 162.3,363.6 164.9,355.3 167.9,357.8 170.8,352.0 173.4,364.5 175.9,357.8 178.4,364.5 181.0,368.5 183.9,360.7 186.8,360.1 189.5,362.2 191.9,360.4 194.4,366.6 197.1,361.6 200.0,357.2 202.9,360.4 205.5,361.6 207.7,363.5 210.7,360.5 213.2,361.1 216.2,356.1 219.1,367.1 221.7,362.6 224.1,362.3 227.0,354.9 229.6,363.1 232.5,356.1 235.5,363.1 238.5,362.0 241.5,360.1 244.0,362.3 246.4,357.6 248.5,357.6 251.2,348.6 253.8,357.1 256.4,365.0 259.3,359.4 262.3,354.6 264.6,354.6 267.2,361.6 269.8,362.3 272.3,367.5 275.3,354.6 278.0,356.1 280.2,368.0 283.2,360.1 286.1,362.0 288.7,365.0 291.4,361.1 294.0,364.6 296.6,360.1 299.6,363.1 302.1,360.8 304.5,363.5" fill="none" stroke="#c43444" stroke-width="0.85" stroke-linejoin="round"/>
<polyline clip-path="url(#c2)" points="44.3,419.3 47.3,404.1 50.5,416.5 55.3,426.3 58.1,427.5 60.6,401.3 63.2,407.0 66.3,409.3 68.6,393.7 71.4,365.2 74.3,307.4 76.7,344.4 79.4,376.6 82.2,384.2 84.7,399.4 87.5,391.4 90.0,393.3 92.8,380.4 95.5,388.0 98.3,396.0 101.2,399.4 103.7,397.5 108.0,396.2 110.6,393.3 113.5,392.3 116.8,394.7 119.7,395.2 122.6,394.7 127.0,394.3 129.9,396.2 132.8,399.1 135.7,399.9 138.7,398.4 141.6,399.6 144.5,398.4 147.4,396.2 150.3,394.0 153.3,390.4 156.2,388.9 159.1,389.6 162.3,391.1 164.9,388.9 167.9,388.2 170.8,385.0 173.4,386.4 175.9,385.5 178.4,387.4 181.0,390.4 183.9,390.4 186.8,390.8 189.8,391.1 192.7,391.8 195.6,393.7 198.2,393.3 200.7,392.3 203.6,392.6 208.0,393.9 211.0,394.3 213.2,394.3 216.2,392.9 219.1,395.4 223.6,396.9 227.0,395.1 229.6,396.3 232.5,394.3 235.5,395.4 239.2,395.8 243.4,396.3 247.4,393.9 249.7,390.6 253.0,388.4 255.6,389.4 258.6,390.9 261.9,388.4 265.3,386.2 269.0,387.3 272.7,389.9 277.7,386.5 280.9,389.1 284.7,389.1 288.4,390.9 291.4,391.4 294.3,392.9 298.1,393.6 301.8,394.3 304.8,395.4" fill="none" stroke="#3a34b0" stroke-width="0.85" stroke-linejoin="round"/>
<line x1="43" y1="259.5" x2="306.6" y2="259.5" stroke="#5a5a5a" stroke-width="1" stroke-linecap="square"/>
<line x1="306.6" y1="259.5" x2="306.6" y2="435.5" stroke="#8a8a8a" stroke-width="1" stroke-linecap="square"/>
<line x1="43" y1="259.5" x2="43" y2="435.5" stroke="#dddddd" stroke-width="1" stroke-linecap="square"/>
<line x1="40" y1="259.50" x2="43" y2="259.50" stroke="#555" stroke-width="1"/>

<line x1="40" y1="284.64" x2="43" y2="284.64" stroke="#555" stroke-width="1"/>

<line x1="40" y1="309.79" x2="43" y2="309.79" stroke="#555" stroke-width="1"/>

<line x1="40" y1="334.93" x2="43" y2="334.93" stroke="#555" stroke-width="1"/>

<line x1="40" y1="360.07" x2="43" y2="360.07" stroke="#555" stroke-width="1"/>

<line x1="40" y1="385.21" x2="43" y2="385.21" stroke="#555" stroke-width="1"/>

<line x1="40" y1="410.36" x2="43" y2="410.36" stroke="#555" stroke-width="1"/>

<line x1="40" y1="435.50" x2="43" y2="435.50" stroke="#555" stroke-width="1"/>

<line x1="306.6" y1="259.50" x2="309.6" y2="259.50" stroke="#555" stroke-width="1"/>

<line x1="306.6" y1="284.64" x2="309.6" y2="284.64" stroke="#555" stroke-width="1"/>

<line x1="306.6" y1="309.79" x2="309.6" y2="309.79" stroke="#555" stroke-width="1"/>

<line x1="306.6" y1="334.93" x2="309.6" y2="334.93" stroke="#555" stroke-width="1"/>

<line x1="306.6" y1="360.07" x2="309.6" y2="360.07" stroke="#555" stroke-width="1"/>

<line x1="306.6" y1="385.21" x2="309.6" y2="385.21" stroke="#555" stroke-width="1"/>

<line x1="306.6" y1="410.36" x2="309.6" y2="410.36" stroke="#555" stroke-width="1"/>

<line x1="306.6" y1="435.50" x2="309.6" y2="435.50" stroke="#555" stroke-width="1"/>

<line x1="43.50" y1="435.5" x2="43.50" y2="438.0" stroke="#999" stroke-width="1"/>
<line x1="45.50" y1="435.5" x2="45.50" y2="438.0" stroke="#999" stroke-width="1"/>
<line x1="48.50" y1="435.5" x2="48.50" y2="438.0" stroke="#999" stroke-width="1"/>
<line x1="51.50" y1="435.5" x2="51.50" y2="438.0" stroke="#999" stroke-width="1"/>
<line x1="53.50" y1="435.5" x2="53.50" y2="438.0" stroke="#999" stroke-width="1"/>
<line x1="56.50" y1="435.5" x2="56.50" y2="438.0" stroke="#999" stroke-width="1"/>
<line x1="59.50" y1="435.5" x2="59.50" y2="438.0" stroke="#999" stroke-width="1"/>
<line x1="61.50" y1="435.5" x2="61.50" y2="438.0" stroke="#999" stroke-width="1"/>
<line x1="64.50" y1="435.5" x2="64.50" y2="438.0" stroke="#999" stroke-width="1"/>
<line x1="67.50" y1="435.5" x2="67.50" y2="438.0" stroke="#999" stroke-width="1"/>
<line x1="69.50" y1="435.5" x2="69.50" y2="438.0" stroke="#999" stroke-width="1"/>
<line x1="72.50" y1="435.5" x2="72.50" y2="440.0" stroke="#aaa" stroke-width="1"/>
<line x1="75.50" y1="435.5" x2="75.50" y2="438.0" stroke="#999" stroke-width="1"/>
<line x1="77.50" y1="435.5" x2="77.50" y2="438.0" stroke="#999" stroke-width="1"/>
<line x1="80.50" y1="435.5" x2="80.50" y2="438.0" stroke="#999" stroke-width="1"/>
<line x1="83.50" y1="435.5" x2="83.50" y2="438.0" stroke="#999" stroke-width="1"/>
<line x1="86.50" y1="435.5" x2="86.50" y2="438.0" stroke="#999" stroke-width="1"/>
<line x1="88.50" y1="435.5" x2="88.50" y2="438.0" stroke="#999" stroke-width="1"/>
<line x1="91.50" y1="435.5" x2="91.50" y2="438.0" stroke="#999" stroke-width="1"/>
<line x1="94.50" y1="435.5" x2="94.50" y2="438.0" stroke="#999" stroke-width="1"/>
<line x1="96.50" y1="435.5" x2="96.50" y2="438.0" stroke="#999" stroke-width="1"/>
<line x1="99.50" y1="435.5" x2="99.50" y2="438.0" stroke="#999" stroke-width="1"/>
<line x1="102.50" y1="435.5" x2="102.50" y2="438.0" stroke="#999" stroke-width="1"/>
<line x1="104.50" y1="435.5" x2="104.50" y2="440.0" stroke="#aaa" stroke-width="1"/>
<line x1="107.50" y1="435.5" x2="107.50" y2="438.0" stroke="#999" stroke-width="1"/>
<line x1="110.50" y1="435.5" x2="110.50" y2="438.0" stroke="#999" stroke-width="1"/>
<line x1="112.50" y1="435.5" x2="112.50" y2="438.0" stroke="#999" stroke-width="1"/>
<line x1="115.50" y1="435.5" x2="115.50" y2="438.0" stroke="#999" stroke-width="1"/>
<line x1="118.50" y1="435.5" x2="118.50" y2="438.0" stroke="#999" stroke-width="1"/>
<line x1="121.50" y1="435.5" x2="121.50" y2="438.0" stroke="#999" stroke-width="1"/>
<line x1="123.50" y1="435.5" x2="123.50" y2="438.0" stroke="#999" stroke-width="1"/>
<line x1="126.50" y1="435.5" x2="126.50" y2="438.0" stroke="#999" stroke-width="1"/>
<line x1="129.50" y1="435.5" x2="129.50" y2="438.0" stroke="#999" stroke-width="1"/>
<line x1="131.50" y1="435.5" x2="131.50" y2="438.0" stroke="#999" stroke-width="1"/>
<line x1="134.50" y1="435.5" x2="134.50" y2="438.0" stroke="#999" stroke-width="1"/>
<line x1="137.50" y1="435.5" x2="137.50" y2="440.0" stroke="#aaa" stroke-width="1"/>
<line x1="139.50" y1="435.5" x2="139.50" y2="438.0" stroke="#999" stroke-width="1"/>
<line x1="142.50" y1="435.5" x2="142.50" y2="438.0" stroke="#999" stroke-width="1"/>
<line x1="145.50" y1="435.5" x2="145.50" y2="438.0" stroke="#999" stroke-width="1"/>
<line x1="147.50" y1="435.5" x2="147.50" y2="438.0" stroke="#999" stroke-width="1"/>
<line x1="150.50" y1="435.5" x2="150.50" y2="438.0" stroke="#999" stroke-width="1"/>
<line x1="153.50" y1="435.5" x2="153.50" y2="438.0" stroke="#999" stroke-width="1"/>
<line x1="155.50" y1="435.5" x2="155.50" y2="438.0" stroke="#999" stroke-width="1"/>
<line x1="158.50" y1="435.5" x2="158.50" y2="438.0" stroke="#999" stroke-width="1"/>
<line x1="161.50" y1="435.5" x2="161.50" y2="438.0" stroke="#999" stroke-width="1"/>
<line x1="164.50" y1="435.5" x2="164.50" y2="438.0" stroke="#999" stroke-width="1"/>
<line x1="166.50" y1="435.5" x2="166.50" y2="438.0" stroke="#999" stroke-width="1"/>
<line x1="169.50" y1="435.5" x2="169.50" y2="440.0" stroke="#aaa" stroke-width="1"/>
<line x1="172.50" y1="435.5" x2="172.50" y2="438.0" stroke="#999" stroke-width="1"/>
<line x1="174.50" y1="435.5" x2="174.50" y2="438.0" stroke="#999" stroke-width="1"/>
<line x1="177.50" y1="435.5" x2="177.50" y2="438.0" stroke="#999" stroke-width="1"/>
<line x1="180.50" y1="435.5" x2="180.50" y2="438.0" stroke="#999" stroke-width="1"/>
<line x1="182.50" y1="435.5" x2="182.50" y2="438.0" stroke="#999" stroke-width="1"/>
<line x1="185.50" y1="435.5" x2="185.50" y2="438.0" stroke="#999" stroke-width="1"/>
<line x1="188.50" y1="435.5" x2="188.50" y2="438.0" stroke="#999" stroke-width="1"/>
<line x1="190.50" y1="435.5" x2="190.50" y2="438.0" stroke="#999" stroke-width="1"/>
<line x1="193.50" y1="435.5" x2="193.50" y2="438.0" stroke="#999" stroke-width="1"/>
<line x1="196.50" y1="435.5" x2="196.50" y2="438.0" stroke="#999" stroke-width="1"/>
<line x1="199.50" y1="435.5" x2="199.50" y2="438.0" stroke="#999" stroke-width="1"/>
<line x1="201.50" y1="435.5" x2="201.50" y2="440.0" stroke="#aaa" stroke-width="1"/>
<line x1="204.50" y1="435.5" x2="204.50" y2="438.0" stroke="#999" stroke-width="1"/>
<line x1="207.50" y1="435.5" x2="207.50" y2="438.0" stroke="#999" stroke-width="1"/>
<line x1="209.50" y1="435.5" x2="209.50" y2="438.0" stroke="#999" stroke-width="1"/>
<line x1="212.50" y1="435.5" x2="212.50" y2="438.0" stroke="#999" stroke-width="1"/>
<line x1="215.50" y1="435.5" x2="215.50" y2="438.0" stroke="#999" stroke-width="1"/>
<line x1="217.50" y1="435.5" x2="217.50" y2="438.0" stroke="#999" stroke-width="1"/>
<line x1="220.50" y1="435.5" x2="220.50" y2="438.0" stroke="#999" stroke-width="1"/>
<line x1="223.50" y1="435.5" x2="223.50" y2="438.0" stroke="#999" stroke-width="1"/>
<line x1="225.50" y1="435.5" x2="225.50" y2="438.0" stroke="#999" stroke-width="1"/>
<line x1="228.50" y1="435.5" x2="228.50" y2="438.0" stroke="#999" stroke-width="1"/>
<line x1="231.50" y1="435.5" x2="231.50" y2="438.0" stroke="#999" stroke-width="1"/>
<line x1="233.50" y1="435.5" x2="233.50" y2="440.0" stroke="#aaa" stroke-width="1"/>
<line x1="236.50" y1="435.5" x2="236.50" y2="438.0" stroke="#999" stroke-width="1"/>
<line x1="239.50" y1="435.5" x2="239.50" y2="438.0" stroke="#999" stroke-width="1"/>
<line x1="242.50" y1="435.5" x2="242.50" y2="438.0" stroke="#999" stroke-width="1"/>
<line x1="244.50" y1="435.5" x2="244.50" y2="438.0" stroke="#999" stroke-width="1"/>
<line x1="247.50" y1="435.5" x2="247.50" y2="438.0" stroke="#999" stroke-width="1"/>
<line x1="250.50" y1="435.5" x2="250.50" y2="438.0" stroke="#999" stroke-width="1"/>
<line x1="252.50" y1="435.5" x2="252.50" y2="438.0" stroke="#999" stroke-width="1"/>
<line x1="255.50" y1="435.5" x2="255.50" y2="438.0" stroke="#999" stroke-width="1"/>
<line x1="258.50" y1="435.5" x2="258.50" y2="438.0" stroke="#999" stroke-width="1"/>
<line x1="260.50" y1="435.5" x2="260.50" y2="438.0" stroke="#999" stroke-width="1"/>
<line x1="263.50" y1="435.5" x2="263.50" y2="438.0" stroke="#999" stroke-width="1"/>
<line x1="266.50" y1="435.5" x2="266.50" y2="440.0" stroke="#aaa" stroke-width="1"/>
<line x1="268.50" y1="435.5" x2="268.50" y2="438.0" stroke="#999" stroke-width="1"/>
<line x1="271.50" y1="435.5" x2="271.50" y2="438.0" stroke="#999" stroke-width="1"/>
<line x1="274.50" y1="435.5" x2="274.50" y2="438.0" stroke="#999" stroke-width="1"/>
<line x1="277.50" y1="435.5" x2="277.50" y2="438.0" stroke="#999" stroke-width="1"/>
<line x1="279.50" y1="435.5" x2="279.50" y2="438.0" stroke="#999" stroke-width="1"/>
<line x1="282.50" y1="435.5" x2="282.50" y2="438.0" stroke="#999" stroke-width="1"/>
<line x1="285.50" y1="435.5" x2="285.50" y2="438.0" stroke="#999" stroke-width="1"/>
<line x1="287.50" y1="435.5" x2="287.50" y2="438.0" stroke="#999" stroke-width="1"/>
<line x1="290.50" y1="435.5" x2="290.50" y2="438.0" stroke="#999" stroke-width="1"/>
<line x1="293.50" y1="435.5" x2="293.50" y2="438.0" stroke="#999" stroke-width="1"/>
<line x1="295.50" y1="435.5" x2="295.50" y2="438.0" stroke="#999" stroke-width="1"/>
<line x1="298.50" y1="435.5" x2="298.50" y2="440.0" stroke="#aaa" stroke-width="1"/>
<line x1="301.50" y1="435.5" x2="301.50" y2="438.0" stroke="#999" stroke-width="1"/>
<line x1="303.50" y1="435.5" x2="303.50" y2="438.0" stroke="#999" stroke-width="1"/>
<line x1="306.50" y1="435.5" x2="306.50" y2="438.0" stroke="#999" stroke-width="1"/>












<rect x="250.2" y="264.6" width="44.80" height="24.70" fill="#fff"/>
<line x1="250.2" y1="264.6" x2="295" y2="264.6" stroke="#b8b8b8" stroke-width="1" stroke-linecap="square"/>
<line x1="295" y1="264.6" x2="295" y2="289.3" stroke="#b8b8b8" stroke-width="1" stroke-linecap="square"/>
<line x1="250.2" y1="289.3" x2="295" y2="289.3" stroke="#a0a0a0" stroke-width="1" stroke-linecap="square"/>
<line x1="250.2" y1="264.6" x2="250.2" y2="289.3" stroke="#666666" stroke-width="1" stroke-linecap="square"/>
<line x1="254" y1="271.7" x2="269" y2="271.7" stroke="#5a5ab8" stroke-width="1"/>
<line x1="254" y1="282" x2="269" y2="282" stroke="#c05058" stroke-width="1"/>


<rect x="351" y="252" width="325" height="221.7" fill="url(#g)"/>
<rect x="385.5" y="260" width="262.10" height="176.30" fill="#fff"/>
<clipPath id="c3"><rect x="385.5" y="260" width="262.10" height="176.30"/></clipPath>
<polyline clip-path="url(#c3)" points="387.4,415.4 390.0,409.2 392.4,393.2 395.3,429.8 398.1,399.8 400.5,405.4 403.7,401.1 408.4,403.6 413.6,397.0 416.3,403.6 419.3,406.7 422.5,397.4 424.9,404.5 430.0,392.3 432.4,404.1 435.0,398.5 438.0,397.0 440.7,420.4 443.7,405.4 445.9,401.7 448.7,389.5 451.2,397.0 453.5,403.8 456.2,403.1 459.0,400.3 462.2,397.6 464.5,411.4 467.3,413.8 470.1,398.3 472.8,401.0 475.6,404.5 478.4,404.9 483.2,413.5 486.3,403.1 489.4,403.1 492.9,405.2 496.4,410.4 499.1,400.3 500.9,403.5 503.7,407.7 507.0,401.0 509.8,402.7 512.3,403.1 515.1,398.9 518.1,395.5 520.6,400.3 523.4,383.0 525.8,388.3 528.9,411.4 531.2,401.7 533.8,386.7 537.0,395.5 539.5,401.2 542.7,402.2 547.1,411.4 552.4,407.9 555.4,394.6 558.2,407.0 560.7,420.3 563.5,390.6 567.4,402.6 570.6,403.5 574.1,406.5 576.6,401.7 579.4,400.5 582.5,293.0 584.2,337.2 587.2,430.9 590.8,416.4 592.8,416.3 595.4,417.5 598.5,382.5 601.1,411.2 603.8,423.4 606.4,405.6 609.2,391.5 611.7,405.0 614.3,387.3 616.9,393.0 619.6,407.3 622.5,407.3 625.2,392.6 627.5,407.9 630.4,394.5 632.9,403.1 635.7,399.7 638.5,397.7 641.3,391.5 643.6,390.9 646.4,401.1" fill="none" stroke="#c43444" stroke-width="0.85" stroke-linejoin="round"/>
<polyline clip-path="url(#c3)" points="387.4,267.9 390.0,285.3 392.4,268.4 395.3,323.8 397.5,321.5 400.5,327.2 403.7,327.2 406.5,329.1 409.3,332.8 411.8,333.2 414.0,326.6 416.3,330.9 419.3,339.2 422.5,333.6 424.9,337.3 427.5,329.4 430.0,315.9 432.8,320.0 438.0,306.5 440.7,338.4 443.7,344.4 445.9,344.4 448.7,324.7 451.3,322.1 454.2,328.4 456.9,330.7 459.7,330.2 462.2,324.2 464.5,340.1 467.3,358.1 470.1,354.7 472.8,354.7 475.6,359.5 478.4,363.7 481.1,374.0 483.5,385.8 486.7,388.6 491.2,392.7 494.3,398.3 497.1,403.5 499.6,404.1 501.9,407.7 504.7,411.4 508.1,412.1 513.0,414.6 517.8,409.3 520.6,408.0 523.4,396.2 525.8,386.5 528.5,395.5 531.2,396.4 533.8,384.9 537.0,375.7 541.8,376.9 544.4,383.1 547.6,393.7 551.5,404.0 555.1,400.5 558.2,404.7 560.7,416.7 563.5,410.5 566.5,409.7 570.1,411.4 574.1,415.8 578.9,416.7 579.8,415.0 582.5,283.3 585.1,303.6 587.2,346.0 589.5,360.2 592.3,383.0 595.4,401.1 598.5,387.5 601.3,397.7 603.8,412.4 606.0,414.6 609.2,407.9 611.7,411.2 614.3,402.2 617.1,394.9 619.9,400.0 622.7,405.4 625.2,397.7 627.8,403.3 630.4,398.3 633.4,400.5 636.3,398.3 638.7,396.6 641.3,387.5 643.9,377.4 646.2,377.6" fill="none" stroke="#3a34b0" stroke-width="0.85" stroke-linejoin="round"/>
<line x1="385.5" y1="260" x2="647.6" y2="260" stroke="#505050" stroke-width="1" stroke-linecap="square"/>
<line x1="647.6" y1="260" x2="647.6" y2="436.3" stroke="#606060" stroke-width="1" stroke-linecap="square"/>
<line x1="385.5" y1="436.3" x2="647.6" y2="436.3" stroke="#505050" stroke-width="1" stroke-linecap="square"/>
<line x1="385.5" y1="260" x2="385.5" y2="436.3" stroke="#505050" stroke-width="1" stroke-linecap="square"/>
<line x1="382.5" y1="260.00" x2="385.5" y2="260.00" stroke="#555" stroke-width="1"/>

<line x1="382.5" y1="295.26" x2="385.5" y2="295.26" stroke="#555" stroke-width="1"/>

<line x1="382.5" y1="330.52" x2="385.5" y2="330.52" stroke="#555" stroke-width="1"/>

<line x1="382.5" y1="365.78" x2="385.5" y2="365.78" stroke="#555" stroke-width="1"/>

<line x1="382.5" y1="401.04" x2="385.5" y2="401.04" stroke="#555" stroke-width="1"/>

<line x1="382.5" y1="436.30" x2="385.5" y2="436.30" stroke="#555" stroke-width="1"/>

<line x1="647.6" y1="260.00" x2="650.6" y2="260.00" stroke="#555" stroke-width="1"/>

<line x1="647.6" y1="295.26" x2="650.6" y2="295.26" stroke="#555" stroke-width="1"/>

<line x1="647.6" y1="330.52" x2="650.6" y2="330.52" stroke="#555" stroke-width="1"/>

<line x1="647.6" y1="365.78" x2="650.6" y2="365.78" stroke="#555" stroke-width="1"/>

<line x1="647.6" y1="401.04" x2="650.6" y2="401.04" stroke="#555" stroke-width="1"/>

<line x1="647.6" y1="436.30" x2="650.6" y2="436.30" stroke="#555" stroke-width="1"/>

<line x1="385.50" y1="436.3" x2="385.50" y2="438.8" stroke="#666" stroke-width="1"/>
<line x1="388.50" y1="436.3" x2="388.50" y2="438.8" stroke="#666" stroke-width="1"/>
<line x1="390.50" y1="436.3" x2="390.50" y2="438.8" stroke="#666" stroke-width="1"/>
<line x1="393.50" y1="436.3" x2="393.50" y2="438.8" stroke="#666" stroke-width="1"/>
<line x1="396.50" y1="436.3" x2="396.50" y2="438.8" stroke="#666" stroke-width="1"/>
<line x1="398.50" y1="436.3" x2="398.50" y2="438.8" stroke="#666" stroke-width="1"/>
<line x1="401.50" y1="436.3" x2="401.50" y2="438.8" stroke="#666" stroke-width="1"/>
<line x1="404.50" y1="436.3" x2="404.50" y2="438.8" stroke="#666" stroke-width="1"/>
<line x1="406.50" y1="436.3" x2="406.50" y2="438.8" stroke="#666" stroke-width="1"/>
<line x1="409.50" y1="436.3" x2="409.50" y2="438.8" stroke="#666" stroke-width="1"/>
<line x1="412.50" y1="436.3" x2="412.50" y2="438.8" stroke="#666" stroke-width="1"/>
<line x1="414.50" y1="436.3" x2="414.50" y2="440.8" stroke="#8a8a8a" stroke-width="1"/>
<line x1="417.50" y1="436.3" x2="417.50" y2="438.8" stroke="#666" stroke-width="1"/>
<line x1="420.50" y1="436.3" x2="420.50" y2="438.8" stroke="#666" stroke-width="1"/>
<line x1="422.50" y1="436.3" x2="422.50" y2="438.8" stroke="#666" stroke-width="1"/>
<line x1="425.50" y1="436.3" x2="425.50" y2="438.8" stroke="#666" stroke-width="1"/>
<line x1="428.50" y1="436.3" x2="428.50" y2="438.8" stroke="#666" stroke-width="1"/>
<line x1="430.50" y1="436.3" x2="430.50" y2="438.8" stroke="#666" stroke-width="1"/>
<line x1="433.50" y1="436.3" x2="433.50" y2="438.8" stroke="#666" stroke-width="1"/>
<line x1="436.50" y1="436.3" x2="436.50" y2="438.8" stroke="#666" stroke-width="1"/>
<line x1="438.50" y1="436.3" x2="438.50" y2="438.8" stroke="#666" stroke-width="1"/>
<line x1="441.50" y1="436.3" x2="441.50" y2="438.8" stroke="#666" stroke-width="1"/>
<line x1="444.50" y1="436.3" x2="444.50" y2="438.8" stroke="#666" stroke-width="1"/>
<line x1="447.50" y1="436.3" x2="447.50" y2="440.8" stroke="#8a8a8a" stroke-width="1"/>
<line x1="449.50" y1="436.3" x2="449.50" y2="438.8" stroke="#666" stroke-width="1"/>
<line x1="452.50" y1="436.3" x2="452.50" y2="438.8" stroke="#666" stroke-width="1"/>
<line x1="455.50" y1="436.3" x2="455.50" y2="438.8" stroke="#666" stroke-width="1"/>
<line x1="457.50" y1="436.3" x2="457.50" y2="438.8" stroke="#666" stroke-width="1"/>
<line x1="460.50" y1="436.3" x2="460.50" y2="438.8" stroke="#666" stroke-width="1"/>
<line x1="463.50" y1="436.3" x2="463.50" y2="438.8" stroke="#666" stroke-width="1"/>
<line x1="465.50" y1="436.3" x2="465.50" y2="438.8" stroke="#666" stroke-width="1"/>
<line x1="468.50" y1="436.3" x2="468.50" y2="438.8" stroke="#666" stroke-width="1"/>
<line x1="471.50" y1="436.3" x2="471.50" y2="438.8" stroke="#666" stroke-width="1"/>
<line x1="473.50" y1="436.3" x2="473.50" y2="438.8" stroke="#666" stroke-width="1"/>
<line x1="476.50" y1="436.3" x2="476.50" y2="438.8" stroke="#666" stroke-width="1"/>
<line x1="479.50" y1="436.3" x2="479.50" y2="440.8" stroke="#8a8a8a" stroke-width="1"/>
<line x1="481.50" y1="436.3" x2="481.50" y2="438.8" stroke="#666" stroke-width="1"/>
<line x1="484.50" y1="436.3" x2="484.50" y2="438.8" stroke="#666" stroke-width="1"/>
<line x1="487.50" y1="436.3" x2="487.50" y2="438.8" stroke="#666" stroke-width="1"/>
<line x1="489.50" y1="436.3" x2="489.50" y2="438.8" stroke="#666" stroke-width="1"/>
<line x1="492.50" y1="436.3" x2="492.50" y2="438.8" stroke="#666" stroke-width="1"/>
<line x1="495.50" y1="436.3" x2="495.50" y2="438.8" stroke="#666" stroke-width="1"/>
<line x1="497.50" y1="436.3" x2="497.50" y2="438.8" stroke="#666" stroke-width="1"/>
<line x1="500.50" y1="436.3" x2="500.50" y2="438.8" stroke="#666" stroke-width="1"/>
<line x1="503.50" y1="436.3" x2="503.50" y2="438.8" stroke="#666" stroke-width="1"/>
<line x1="505.50" y1="436.3" x2="505.50" y2="438.8" stroke="#666" stroke-width="1"/>
<line x1="508.50" y1="436.3" x2="508.50" y2="438.8" stroke="#666" stroke-width="1"/>
<line x1="511.50" y1="436.3" x2="511.50" y2="440.8" stroke="#8a8a8a" stroke-width="1"/>
<line x1="513.50" y1="436.3" x2="513.50" y2="438.8" stroke="#666" stroke-width="1"/>
<line x1="516.50" y1="436.3" x2="516.50" y2="438.8" stroke="#666" stroke-width="1"/>
<line x1="519.50" y1="436.3" x2="519.50" y2="438.8" stroke="#666" stroke-width="1"/>
<line x1="521.50" y1="436.3" x2="521.50" y2="438.8" stroke="#666" stroke-width="1"/>
<line x1="524.50" y1="436.3" x2="524.50" y2="438.8" stroke="#666" stroke-width="1"/>
<line x1="527.50" y1="436.3" x2="527.50" y2="438.8" stroke="#666" stroke-width="1"/>
<line x1="529.50" y1="436.3" x2="529.50" y2="438.8" stroke="#666" stroke-width="1"/>
<line x1="532.50" y1="436.3" x2="532.50" y2="438.8" stroke="#666" stroke-width="1"/>
<line x1="535.50" y1="436.3" x2="535.50" y2="438.8" stroke="#666" stroke-width="1"/>
<line x1="537.50" y1="436.3" x2="537.50" y2="438.8" stroke="#666" stroke-width="1"/>
<line x1="540.50" y1="436.3" x2="540.50" y2="438.8" stroke="#666" stroke-width="1"/>
<line x1="543.50" y1="436.3" x2="543.50" y2="440.8" stroke="#8a8a8a" stroke-width="1"/>
<line x1="545.50" y1="436.3" x2="545.50" y2="438.8" stroke="#666" stroke-width="1"/>
<line x1="548.50" y1="436.3" x2="548.50" y2="438.8" stroke="#666" stroke-width="1"/>
<line x1="551.50" y1="436.3" x2="551.50" y2="438.8" stroke="#666" stroke-width="1"/>
<line x1="553.50" y1="436.3" x2="553.50" y2="438.8" stroke="#666" stroke-width="1"/>
<line x1="556.50" y1="436.3" x2="556.50" y2="438.8" stroke="#666" stroke-width="1"/>
<line x1="559.50" y1="436.3" x2="559.50" y2="438.8" stroke="#666" stroke-width="1"/>
<line x1="562.50" y1="436.3" x2="562.50" y2="438.8" stroke="#666" stroke-width="1"/>
<line x1="564.50" y1="436.3" x2="564.50" y2="438.8" stroke="#666" stroke-width="1"/>
<line x1="567.50" y1="436.3" x2="567.50" y2="438.8" stroke="#666" stroke-width="1"/>
<line x1="570.50" y1="436.3" x2="570.50" y2="438.8" stroke="#666" stroke-width="1"/>
<line x1="572.50" y1="436.3" x2="572.50" y2="438.8" stroke="#666" stroke-width="1"/>
<line x1="575.50" y1="436.3" x2="575.50" y2="440.8" stroke="#8a8a8a" stroke-width="1"/>
<line x1="578.50" y1="436.3" x2="578.50" y2="438.8" stroke="#666" stroke-width="1"/>
<line x1="580.50" y1="436.3" x2="580.50" y2="438.8" stroke="#666" stroke-width="1"/>
<line x1="583.50" y1="436.3" x2="583.50" y2="438.8" stroke="#666" stroke-width="1"/>
<line x1="586.50" y1="436.3" x2="586.50" y2="438.8" stroke="#666" stroke-width="1"/>
<line x1="588.50" y1="436.3" x2="588.50" y2="438.8" stroke="#666" stroke-width="1"/>
<line x1="591.50" y1="436.3" x2="591.50" y2="438.8" stroke="#666" stroke-width="1"/>
<line x1="594.50" y1="436.3" x2="594.50" y2="438.8" stroke="#666" stroke-width="1"/>
<line x1="596.50" y1="436.3" x2="596.50" y2="438.8" stroke="#666" stroke-width="1"/>
<line x1="599.50" y1="436.3" x2="599.50" y2="438.8" stroke="#666" stroke-width="1"/>
<line x1="602.50" y1="436.3" x2="602.50" y2="438.8" stroke="#666" stroke-width="1"/>
<line x1="604.50" y1="436.3" x2="604.50" y2="438.8" stroke="#666" stroke-width="1"/>
<line x1="607.50" y1="436.3" x2="607.50" y2="440.8" stroke="#8a8a8a" stroke-width="1"/>
<line x1="610.50" y1="436.3" x2="610.50" y2="438.8" stroke="#666" stroke-width="1"/>
<line x1="612.50" y1="436.3" x2="612.50" y2="438.8" stroke="#666" stroke-width="1"/>
<line x1="615.50" y1="436.3" x2="615.50" y2="438.8" stroke="#666" stroke-width="1"/>
<line x1="618.50" y1="436.3" x2="618.50" y2="438.8" stroke="#666" stroke-width="1"/>
<line x1="620.50" y1="436.3" x2="620.50" y2="438.8" stroke="#666" stroke-width="1"/>
<line x1="623.50" y1="436.3" x2="623.50" y2="438.8" stroke="#666" stroke-width="1"/>
<line x1="626.50" y1="436.3" x2="626.50" y2="438.8" stroke="#666" stroke-width="1"/>
<line x1="628.50" y1="436.3" x2="628.50" y2="438.8" stroke="#666" stroke-width="1"/>
<line x1="631.50" y1="436.3" x2="631.50" y2="438.8" stroke="#666" stroke-width="1"/>
<line x1="634.50" y1="436.3" x2="634.50" y2="438.8" stroke="#666" stroke-width="1"/>
<line x1="636.50" y1="436.3" x2="636.50" y2="438.8" stroke="#666" stroke-width="1"/>
<line x1="639.50" y1="436.3" x2="639.50" y2="440.8" stroke="#8a8a8a" stroke-width="1"/>
<line x1="642.50" y1="436.3" x2="642.50" y2="438.8" stroke="#666" stroke-width="1"/>
<line x1="644.50" y1="436.3" x2="644.50" y2="438.8" stroke="#666" stroke-width="1"/>
<line x1="647.50" y1="436.3" x2="647.50" y2="438.8" stroke="#666" stroke-width="1"/>












<rect x="398.2" y="262.4" width="41.60" height="24.10" fill="#fff"/>
<line x1="398.2" y1="262.4" x2="439.8" y2="262.4" stroke="#808080" stroke-width="1" stroke-linecap="square"/>
<line x1="439.8" y1="262.4" x2="439.8" y2="286.5" stroke="#808080" stroke-width="1" stroke-linecap="square"/>
<line x1="398.2" y1="286.5" x2="439.8" y2="286.5" stroke="#707070" stroke-width="1" stroke-linecap="square"/>
<line x1="398.2" y1="262.4" x2="398.2" y2="286.5" stroke="#606060" stroke-width="1" stroke-linecap="square"/>
<line x1="402" y1="269.3" x2="417" y2="269.3" stroke="#5a5ab8" stroke-width="1"/>
<line x1="402" y1="279.5" x2="417" y2="279.5" stroke="#c05058" stroke-width="1"/>


<rect x="1" y="478" width="333" height="220.7" fill="url(#g)"/>
<rect x="42.3" y="484.6" width="266.30" height="176.20" fill="#fff"/>
<clipPath id="c4"><rect x="42.3" y="484.6" width="266.30" height="176.20"/></clipPath>
<polyline clip-path="url(#c4)" points="43.8,601.9 46.3,578.7 48.9,592.5 51.9,638.4 54.6,571.8 57.0,581.2 59.9,621.8 62.7,535.3 65.5,617.6 71.2,563.6 75.9,615.7 79.1,571.2 81.6,572.7 84.4,599.5 87.2,563.6 89.7,573.6 92.3,546.7 95.3,556.7 98.6,636.5 103.3,559.5 106.1,551.6 109.2,559.5 111.6,604.4 114.4,570.4 117.3,598.2 119.7,590.6 122.4,608.6 125.4,613.8 127.6,565.5 130.5,583.1 133.3,578.7 136.1,586.8 139.0,595.3 141.8,636.5 146.5,581.8 149.3,590.6 152.6,608.6 155.0,596.3 157.8,616.1 160.7,564.2 163.1,632.1 165.8,554.2 168.8,614.2 171.5,558.0 173.8,583.6 176.6,547.2 179.4,617.0 181.7,606.6 184.7,540.2 187.4,624.6 190.4,582.1 193.0,598.2 195.5,529.3 198.3,593.4 201.1,591.5 204.0,640.6 208.7,587.4 211.9,634.9 214.3,498.2 217.2,653.8 222.5,553.8 225.7,578.3 228.1,624.6 230.8,596.8 233.8,636.5 236.4,513.2 238.5,528.0 244.0,615.8 247.0,523.5 249.7,613.0 252.1,611.7 255.0,638.0 257.8,502.5 260.6,634.7 263.4,643.7 268.5,552.7 271.5,589.1 276.6,560.3 281.7,597.9 284.7,564.0 287.3,632.8 290.4,504.7 293.0,583.8 295.4,550.3 298.6,658.2 301.1,533.3 303.9,517.5 306.7,604.5" fill="none" stroke="#c43444" stroke-width="0.85" stroke-linejoin="round"/>
<polyline clip-path="url(#c4)" points="43.8,529.3 46.3,525.9 48.9,530.8 51.9,559.5 54.6,553.4 57.0,551.9 59.9,569.9 62.7,549.1 65.2,560.4 68.4,564.2 71.2,553.8 73.5,555.3 76.5,570.4 81.0,558.0 84.4,564.2 87.8,553.4 90.4,545.3 95.3,506.3 101.0,552.3 105.2,527.0 108.4,499.1 111.6,512.3 114.4,502.5 117.3,511.9 119.7,515.7 122.4,529.3 125.4,545.9 128.0,535.3 130.5,534.0 133.3,529.7 136.1,532.1 139.0,538.7 141.8,564.8 144.3,575.5 146.9,575.0 149.3,578.0 151.8,585.9 154.4,590.6 157.5,599.5 160.1,594.4 162.6,608.2 165.8,599.5 168.8,608.6 171.5,601.9 174.2,601.0 176.6,587.4 179.1,596.3 181.7,602.9 184.7,586.8 187.4,600.0 190.4,600.0 193.0,603.8 195.5,584.0 198.3,587.4 201.1,591.2 204.0,608.5 206.8,614.2 209.2,615.1 211.9,623.6 214.3,604.8 217.2,623.6 219.4,629.3 222.5,622.7 225.1,621.4 228.1,629.7 230.8,632.1 233.8,641.5 236.4,623.6 239.4,614.6 240.8,613.9 244.6,623.4 247.0,606.8 249.7,613.9 252.1,621.5 255.0,630.0 257.8,613.9 260.6,628.1 265.3,642.2 268.5,637.5 271.5,638.0 274.7,634.7 277.5,629.0 280.9,630.0 284.7,627.5 287.3,636.2 290.7,619.2 293.6,617.7 295.4,609.2 298.3,628.1 301.1,616.8 304.3,594.2 306.7,598.9" fill="none" stroke="#3a34b0" stroke-width="0.85" stroke-linejoin="round"/>
<line x1="42.3" y1="484.6" x2="308.6" y2="484.6" stroke="#c4c4c4" stroke-width="1" stroke-linecap="square"/>
<line x1="308.6" y1="484.6" x2="308.6" y2="660.8" stroke="#808080" stroke-width="1" stroke-linecap="square"/>
<line x1="42.3" y1="660.8" x2="308.6" y2="660.8" stroke="#909090" stroke-width="1" stroke-linecap="square"/>
<line x1="42.3" y1="484.6" x2="42.3" y2="660.8" stroke="#999999" stroke-width="1" stroke-linecap="square"/>
<line x1="39.3" y1="484.60" x2="42.3" y2="484.60" stroke="#555" stroke-width="1"/>

<line x1="39.3" y1="509.77" x2="42.3" y2="509.77" stroke="#555" stroke-width="1"/>

<line x1="39.3" y1="534.94" x2="42.3" y2="534.94" stroke="#555" stroke-width="1"/>

<line x1="39.3" y1="560.11" x2="42.3" y2="560.11" stroke="#555" stroke-width="1"/>

<line x1="39.3" y1="585.29" x2="42.3" y2="585.29" stroke="#555" stroke-width="1"/>

<line x1="39.3" y1="610.46" x2="42.3" y2="610.46" stroke="#555" stroke-width="1"/>

<line x1="39.3" y1="635.63" x2="42.3" y2="635.63" stroke="#555" stroke-width="1"/>

<line x1="39.3" y1="660.80" x2="42.3" y2="660.80" stroke="#555" stroke-width="1"/>

<line x1="308.6" y1="484.60" x2="311.6" y2="484.60" stroke="#555" stroke-width="1"/>

<line x1="308.6" y1="509.77" x2="311.6" y2="509.77" stroke="#555" stroke-width="1"/>

<line x1="308.6" y1="534.94" x2="311.6" y2="534.94" stroke="#555" stroke-width="1"/>

<line x1="308.6" y1="560.11" x2="311.6" y2="560.11" stroke="#555" stroke-width="1"/>

<line x1="308.6" y1="585.29" x2="311.6" y2="585.29" stroke="#555" stroke-width="1"/>

<line x1="308.6" y1="610.46" x2="311.6" y2="610.46" stroke="#555" stroke-width="1"/>

<line x1="308.6" y1="635.63" x2="311.6" y2="635.63" stroke="#555" stroke-width="1"/>

<line x1="308.6" y1="660.80" x2="311.6" y2="660.80" stroke="#555" stroke-width="1"/>

<line x1="42.50" y1="660.8" x2="42.50" y2="663.3" stroke="#666" stroke-width="1"/>
<line x1="45.50" y1="660.8" x2="45.50" y2="663.3" stroke="#666" stroke-width="1"/>
<line x1="47.50" y1="660.8" x2="47.50" y2="663.3" stroke="#666" stroke-width="1"/>
<line x1="50.50" y1="660.8" x2="50.50" y2="663.3" stroke="#666" stroke-width="1"/>
<line x1="53.50" y1="660.8" x2="53.50" y2="663.3" stroke="#666" stroke-width="1"/>
<line x1="55.50" y1="660.8" x2="55.50" y2="663.3" stroke="#666" stroke-width="1"/>
<line x1="58.50" y1="660.8" x2="58.50" y2="663.3" stroke="#666" stroke-width="1"/>
<line x1="61.50" y1="660.8" x2="61.50" y2="663.3" stroke="#666" stroke-width="1"/>
<line x1="64.50" y1="660.8" x2="64.50" y2="663.3" stroke="#666" stroke-width="1"/>
<line x1="66.50" y1="660.8" x2="66.50" y2="663.3" stroke="#666" stroke-width="1"/>
<line x1="69.50" y1="660.8" x2="69.50" y2="663.3" stroke="#666" stroke-width="1"/>
<line x1="72.50" y1="660.8" x2="72.50" y2="665.3" stroke="#8a8a8a" stroke-width="1"/>
<line x1="74.50" y1="660.8" x2="74.50" y2="663.3" stroke="#666" stroke-width="1"/>
<line x1="77.50" y1="660.8" x2="77.50" y2="663.3" stroke="#666" stroke-width="1"/>
<line x1="80.50" y1="660.8" x2="80.50" y2="663.3" stroke="#666" stroke-width="1"/>
<line x1="83.50" y1="660.8" x2="83.50" y2="663.3" stroke="#666" stroke-width="1"/>
<line x1="85.50" y1="660.8" x2="85.50" y2="663.3" stroke="#666" stroke-width="1"/>
<line x1="88.50" y1="660.8" x2="88.50" y2="663.3" stroke="#666" stroke-width="1"/>
<line x1="91.50" y1="660.8" x2="91.50" y2="663.3" stroke="#666" stroke-width="1"/>
<line x1="93.50" y1="660.8" x2="93.50" y2="663.3" stroke="#666" stroke-width="1"/>
<line x1="96.50" y1="660.8" x2="96.50" y2="663.3" stroke="#666" stroke-width="1"/>
<line x1="99.50" y1="660.8" x2="99.50" y2="663.3" stroke="#666" stroke-width="1"/>
<line x1="102.50" y1="660.8" x2="102.50" y2="663.3" stroke="#666" stroke-width="1"/>
<line x1="104.50" y1="660.8" x2="104.50" y2="665.3" stroke="#8a8a8a" stroke-width="1"/>
<line x1="107.50" y1="660.8" x2="107.50" y2="663.3" stroke="#666" stroke-width="1"/>
<line x1="110.50" y1="660.8" x2="110.50" y2="663.3" stroke="#666" stroke-width="1"/>
<line x1="112.50" y1="660.8" x2="112.50" y2="663.3" stroke="#666" stroke-width="1"/>
<line x1="115.50" y1="660.8" x2="115.50" y2="663.3" stroke="#666" stroke-width="1"/>
<line x1="118.50" y1="660.8" x2="118.50" y2="663.3" stroke="#666" stroke-width="1"/>
<line x1="121.50" y1="660.8" x2="121.50" y2="663.3" stroke="#666" stroke-width="1"/>
<line x1="123.50" y1="660.8" x2="123.50" y2="663.3" stroke="#666" stroke-width="1"/>
<line x1="126.50" y1="660.8" x2="126.50" y2="663.3" stroke="#666" stroke-width="1"/>
<line x1="129.50" y1="660.8" x2="129.50" y2="663.3" stroke="#666" stroke-width="1"/>
<line x1="131.50" y1="660.8" x2="131.50" y2="663.3" stroke="#666" stroke-width="1"/>
<line x1="134.50" y1="660.8" x2="134.50" y2="663.3" stroke="#666" stroke-width="1"/>
<line x1="137.50" y1="660.8" x2="137.50" y2="665.3" stroke="#8a8a8a" stroke-width="1"/>
<line x1="140.50" y1="660.8" x2="140.50" y2="663.3" stroke="#666" stroke-width="1"/>
<line x1="142.50" y1="660.8" x2="142.50" y2="663.3" stroke="#666" stroke-width="1"/>
<line x1="145.50" y1="660.8" x2="145.50" y2="663.3" stroke="#666" stroke-width="1"/>
<line x1="148.50" y1="660.8" x2="148.50" y2="663.3" stroke="#666" stroke-width="1"/>
<line x1="150.50" y1="660.8" x2="150.50" y2="663.3" stroke="#666" stroke-width="1"/>
<line x1="153.50" y1="660.8" x2="153.50" y2="663.3" stroke="#666" stroke-width="1"/>
<line x1="156.50" y1="660.8" x2="156.50" y2="663.3" stroke="#666" stroke-width="1"/>
<line x1="159.50" y1="660.8" x2="159.50" y2="663.3" stroke="#666" stroke-width="1"/>
<line x1="161.50" y1="660.8" x2="161.50" y2="663.3" stroke="#666" stroke-width="1"/>
<line x1="164.50" y1="660.8" x2="164.50" y2="663.3" stroke="#666" stroke-width="1"/>
<line x1="167.50" y1="660.8" x2="167.50" y2="663.3" stroke="#666" stroke-width="1"/>
<line x1="170.50" y1="660.8" x2="170.50" y2="665.3" stroke="#8a8a8a" stroke-width="1"/>
<line x1="172.50" y1="660.8" x2="172.50" y2="663.3" stroke="#666" stroke-width="1"/>
<line x1="175.50" y1="660.8" x2="175.50" y2="663.3" stroke="#666" stroke-width="1"/>
<line x1="178.50" y1="660.8" x2="178.50" y2="663.3" stroke="#666" stroke-width="1"/>
<line x1="180.50" y1="660.8" x2="180.50" y2="663.3" stroke="#666" stroke-width="1"/>
<line x1="183.50" y1="660.8" x2="183.50" y2="663.3" stroke="#666" stroke-width="1"/>
<line x1="186.50" y1="660.8" x2="186.50" y2="663.3" stroke="#666" stroke-width="1"/>
<line x1="189.50" y1="660.8" x2="189.50" y2="663.3" stroke="#666" stroke-width="1"/>
<line x1="191.50" y1="660.8" x2="191.50" y2="663.3" stroke="#666" stroke-width="1"/>
<line x1="194.50" y1="660.8" x2="194.50" y2="663.3" stroke="#666" stroke-width="1"/>
<line x1="197.50" y1="660.8" x2="197.50" y2="663.3" stroke="#666" stroke-width="1"/>
<line x1="199.50" y1="660.8" x2="199.50" y2="663.3" stroke="#666" stroke-width="1"/>
<line x1="202.50" y1="660.8" x2="202.50" y2="665.3" stroke="#8a8a8a" stroke-width="1"/>
<line x1="205.50" y1="660.8" x2="205.50" y2="663.3" stroke="#666" stroke-width="1"/>
<line x1="208.50" y1="660.8" x2="208.50" y2="663.3" stroke="#666" stroke-width="1"/>
<line x1="210.50" y1="660.8" x2="210.50" y2="663.3" stroke="#666" stroke-width="1"/>
<line x1="213.50" y1="660.8" x2="213.50" y2="663.3" stroke="#666" stroke-width="1"/>
<line x1="216.50" y1="660.8" x2="216.50" y2="663.3" stroke="#666" stroke-width="1"/>
<line x1="218.50" y1="660.8" x2="218.50" y2="663.3" stroke="#666" stroke-width="1"/>
<line x1="221.50" y1="660.8" x2="221.50" y2="663.3" stroke="#666" stroke-width="1"/>
<line x1="224.50" y1="660.8" x2="224.50" y2="663.3" stroke="#666" stroke-width="1"/>
<line x1="227.50" y1="660.8" x2="227.50" y2="663.3" stroke="#666" stroke-width="1"/>
<line x1="229.50" y1="660.8" x2="229.50" y2="663.3" stroke="#666" stroke-width="1"/>
<line x1="232.50" y1="660.8" x2="232.50" y2="663.3" stroke="#666" stroke-width="1"/>
<line x1="235.50" y1="660.8" x2="235.50" y2="665.3" stroke="#8a8a8a" stroke-width="1"/>
<line x1="237.50" y1="660.8" x2="237.50" y2="663.3" stroke="#666" stroke-width="1"/>
<line x1="240.50" y1="660.8" x2="240.50" y2="663.3" stroke="#666" stroke-width="1"/>
<line x1="243.50" y1="660.8" x2="243.50" y2="663.3" stroke="#666" stroke-width="1"/>
<line x1="246.50" y1="660.8" x2="246.50" y2="663.3" stroke="#666" stroke-width="1"/>
<line x1="248.50" y1="660.8" x2="248.50" y2="663.3" stroke="#666" stroke-width="1"/>
<line x1="251.50" y1="660.8" x2="251.50" y2="663.3" stroke="#666" stroke-width="1"/>
<line x1="254.50" y1="660.8" x2="254.50" y2="663.3" stroke="#666" stroke-width="1"/>
<line x1="256.50" y1="660.8" x2="256.50" y2="663.3" stroke="#666" stroke-width="1"/>
<line x1="259.50" y1="660.8" x2="259.50" y2="663.3" stroke="#666" stroke-width="1"/>
<line x1="262.50" y1="660.8" x2="262.50" y2="663.3" stroke="#666" stroke-width="1"/>
<line x1="265.50" y1="660.8" x2="265.50" y2="663.3" stroke="#666" stroke-width="1"/>
<line x1="267.50" y1="660.8" x2="267.50" y2="665.3" stroke="#8a8a8a" stroke-width="1"/>
<line x1="270.50" y1="660.8" x2="270.50" y2="663.3" stroke="#666" stroke-width="1"/>
<line x1="273.50" y1="660.8" x2="273.50" y2="663.3" stroke="#666" stroke-width="1"/>
<line x1="275.50" y1="660.8" x2="275.50" y2="663.3" stroke="#666" stroke-width="1"/>
<line x1="278.50" y1="660.8" x2="278.50" y2="663.3" stroke="#666" stroke-width="1"/>
<line x1="281.50" y1="660.8" x2="281.50" y2="663.3" stroke="#666" stroke-width="1"/>
<line x1="284.50" y1="660.8" x2="284.50" y2="663.3" stroke="#666" stroke-width="1"/>
<line x1="286.50" y1="660.8" x2="286.50" y2="663.3" stroke="#666" stroke-width="1"/>
<line x1="289.50" y1="660.8" x2="289.50" y2="663.3" stroke="#666" stroke-width="1"/>
<line x1="292.50" y1="660.8" x2="292.50" y2="663.3" stroke="#666" stroke-width="1"/>
<line x1="295.50" y1="660.8" x2="295.50" y2="663.3" stroke="#666" stroke-width="1"/>
<line x1="297.50" y1="660.8" x2="297.50" y2="663.3" stroke="#666" stroke-width="1"/>
<line x1="300.50" y1="660.8" x2="300.50" y2="665.3" stroke="#8a8a8a" stroke-width="1"/>
<line x1="303.50" y1="660.8" x2="303.50" y2="663.3" stroke="#666" stroke-width="1"/>
<line x1="305.50" y1="660.8" x2="305.50" y2="663.3" stroke="#666" stroke-width="1"/>
<line x1="308.50" y1="660.8" x2="308.50" y2="663.3" stroke="#666" stroke-width="1"/>












<rect x="43.4" y="486.8" width="44.90" height="23.60" fill="#fff"/>
<line x1="43.4" y1="486.8" x2="88.3" y2="486.8" stroke="#a8a8a8" stroke-width="1" stroke-linecap="square"/>
<line x1="88.3" y1="486.8" x2="88.3" y2="510.4" stroke="#a8a8a8" stroke-width="1" stroke-linecap="square"/>
<line x1="43.4" y1="510.4" x2="88.3" y2="510.4" stroke="#a0a0a0" stroke-width="1" stroke-linecap="square"/>
<line x1="43.4" y1="486.8" x2="43.4" y2="510.4" stroke="#707070" stroke-width="1" stroke-linecap="square"/>
<line x1="47" y1="492.9" x2="62" y2="492.9" stroke="#5a5ab8" stroke-width="1"/>
<line x1="47" y1="503.8" x2="62" y2="503.8" stroke="#c05058" stroke-width="1"/>


<rect x="351" y="477.5" width="334" height="222.3" fill="url(#g)"/>
<rect x="394.8" y="486.2" width="257.80" height="175.00" fill="#fff"/>
<clipPath id="c5"><rect x="394.8" y="486.2" width="257.80" height="175.00"/></clipPath>
<polyline clip-path="url(#c5)" points="396.2,637.7 398.8,619.0 401.4,611.6 404.4,639.2 407.1,594.2 409.6,624.0 412.2,625.0 414.6,592.2 417.5,628.0 420.1,619.0 422.6,593.3 425.3,625.0 428.0,629.5 430.5,598.2 432.7,598.9 435.7,609.4 438.4,605.2 440.9,606.7 443.4,577.8 446.1,591.5 448.8,639.2 451.3,620.1 454.3,604.2 456.9,609.4 459.5,610.9 461.9,624.9 464.5,616.4 467.0,613.4 469.6,616.6 472.5,627.5 475.1,624.0 477.6,605.4 480.2,611.3 483.0,604.1 485.3,621.5 487.8,616.6 490.7,630.7 493.5,613.1 496.4,609.0 498.6,610.9 501.1,616.6 503.7,613.1 506.2,624.3 509.2,607.7 511.3,625.6 514.3,610.0 516.8,620.5 520.0,613.8 522.6,609.0 524.9,587.5 527.4,611.5 530.1,598.9 533.0,593.5 535.5,637.3 538.1,598.6 540.6,604.4 543.2,589.0 545.8,625.9 548.3,614.3 551.2,637.3 554.0,621.1 556.3,627.9 559.1,607.1 561.5,588.7 564.2,616.0 567.1,641.6 569.6,601.0 572.2,631.7 574.8,610.9 577.3,616.0 580.2,618.6 582.4,616.9 585.0,568.2 587.6,511.1 590.0,571.2 590.9,611.5 593.2,631.0 595.8,644.0 598.4,624.5 601.0,623.2 603.6,599.5 606.2,631.0 608.8,621.6 611.4,642.7 614.0,595.9 616.6,612.2 619.2,597.2 622.1,625.5 624.4,611.2 627.0,617.4 629.6,600.5 632.5,634.3 635.1,594.6 637.4,610.2 640.0,604.7 642.9,631.0 645.5,589.1 648.1,581.0 650.7,653.8" fill="none" stroke="#c43444" stroke-width="0.85" stroke-linejoin="round"/>
<polyline clip-path="url(#c5)" points="396.2,558.4 399.2,564.7 401.4,565.4 404.1,588.8 407.1,576.3 409.6,586.3 412.2,597.2 414.6,583.3 417.1,593.7 419.6,601.2 422.6,589.3 425.3,601.2 428.0,610.6 430.5,601.6 432.7,594.8 435.4,593.0 438.4,588.8 440.9,584.8 443.2,561.7 446.4,532.2 449.1,563.2 451.3,568.0 453.9,561.7 456.6,559.9 459.2,559.5 461.5,571.9 464.5,577.0 467.0,579.0 470.0,584.1 472.8,596.2 475.3,604.5 477.9,601.1 480.4,600.7 483.0,596.0 485.5,602.6 488.1,606.4 490.7,617.3 493.2,618.2 495.8,617.3 498.3,616.4 500.9,618.6 503.7,620.5 506.2,625.3 508.8,624.9 511.3,630.9 513.6,631.3 516.8,634.5 520.0,635.2 522.3,633.2 524.9,624.0 527.4,623.3 530.1,616.0 533.0,607.1 535.5,621.5 538.1,615.7 540.6,611.7 543.2,596.4 545.8,605.8 548.3,607.8 551.2,622.0 554.0,628.3 556.3,634.8 559.1,633.4 561.5,622.5 564.2,627.1 567.1,638.2 569.6,636.8 572.2,643.6 575.1,644.7 578.2,646.4 581.9,649.8 585.0,633.1 587.6,570.3 590.4,570.6 593.2,589.4 595.8,610.9 598.4,618.0 601.0,623.9 603.6,618.7 606.2,629.7 608.8,633.0 611.7,644.3 614.0,639.5 616.6,639.8 619.2,634.6 622.1,639.5 624.7,639.8 627.0,642.1 629.6,638.5 632.5,646.0 635.1,639.5 637.7,638.5 640.0,636.2 642.9,642.7 645.5,633.6 648.5,621.3 650.7,639.1" fill="none" stroke="#3a34b0" stroke-width="0.85" stroke-linejoin="round"/>
<line x1="394.8" y1="486.2" x2="652.6" y2="486.2" stroke="#c4c4c4" stroke-width="1" stroke-linecap="square"/>
<line x1="652.6" y1="486.2" x2="652.6" y2="661.2" stroke="#555555" stroke-width="1" stroke-linecap="square"/>
<line x1="394.8" y1="661.2" x2="652.6" y2="661.2" stroke="#b0b0b0" stroke-width="1" stroke-linecap="square"/>
<line x1="391.8" y1="486.20" x2="394.8" y2="486.20" stroke="#555" stroke-width="1"/>

<line x1="391.8" y1="511.20" x2="394.8" y2="511.20" stroke="#555" stroke-width="1"/>

<line x1="391.8" y1="536.20" x2="394.8" y2="536.20" stroke="#555" stroke-width="1"/>

<line x1="391.8" y1="561.20" x2="394.8" y2="561.20" stroke="#555" stroke-width="1"/>

<line x1="391.8" y1="586.20" x2="394.8" y2="586.20" stroke="#555" stroke-width="1"/>

<line x1="391.8" y1="611.20" x2="394.8" y2="611.20" stroke="#555" stroke-width="1"/>

<line x1="391.8" y1="636.20" x2="394.8" y2="636.20" stroke="#555" stroke-width="1"/>

<line x1="391.8" y1="661.20" x2="394.8" y2="661.20" stroke="#555" stroke-width="1"/>

<line x1="652.6" y1="486.20" x2="655.6" y2="486.20" stroke="#555" stroke-width="1"/>

<line x1="652.6" y1="511.20" x2="655.6" y2="511.20" stroke="#555" stroke-width="1"/>

<line x1="652.6" y1="536.20" x2="655.6" y2="536.20" stroke="#555" stroke-width="1"/>

<line x1="652.6" y1="561.20" x2="655.6" y2="561.20" stroke="#555" stroke-width="1"/>

<line x1="652.6" y1="586.20" x2="655.6" y2="586.20" stroke="#555" stroke-width="1"/>

<line x1="652.6" y1="611.20" x2="655.6" y2="611.20" stroke="#555" stroke-width="1"/>

<line x1="652.6" y1="636.20" x2="655.6" y2="636.20" stroke="#555" stroke-width="1"/>

<line x1="652.6" y1="661.20" x2="655.6" y2="661.20" stroke="#555" stroke-width="1"/>

<line x1="394.50" y1="661.2" x2="394.50" y2="663.7" stroke="#666" stroke-width="1"/>
<line x1="397.50" y1="661.2" x2="397.50" y2="663.7" stroke="#666" stroke-width="1"/>
<line x1="400.50" y1="661.2" x2="400.50" y2="663.7" stroke="#666" stroke-width="1"/>
<line x1="402.50" y1="661.2" x2="402.50" y2="663.7" stroke="#666" stroke-width="1"/>
<line x1="405.50" y1="661.2" x2="405.50" y2="663.7" stroke="#666" stroke-width="1"/>
<line x1="407.50" y1="661.2" x2="407.50" y2="663.7" stroke="#666" stroke-width="1"/>
<line x1="410.50" y1="661.2" x2="410.50" y2="663.7" stroke="#666" stroke-width="1"/>
<line x1="413.50" y1="661.2" x2="413.50" y2="663.7" stroke="#666" stroke-width="1"/>
<line x1="415.50" y1="661.2" x2="415.50" y2="663.7" stroke="#666" stroke-width="1"/>
<line x1="418.50" y1="661.2" x2="418.50" y2="663.7" stroke="#666" stroke-width="1"/>
<line x1="421.50" y1="661.2" x2="421.50" y2="663.7" stroke="#666" stroke-width="1"/>
<line x1="423.50" y1="661.2" x2="423.50" y2="665.7" stroke="#8a8a8a" stroke-width="1"/>
<line x1="426.50" y1="661.2" x2="426.50" y2="663.7" stroke="#666" stroke-width="1"/>
<line x1="428.50" y1="661.2" x2="428.50" y2="663.7" stroke="#666" stroke-width="1"/>
<line x1="431.50" y1="661.2" x2="431.50" y2="663.7" stroke="#666" stroke-width="1"/>
<line x1="434.50" y1="661.2" x2="434.50" y2="663.7" stroke="#666" stroke-width="1"/>
<line x1="436.50" y1="661.2" x2="436.50" y2="663.7" stroke="#666" stroke-width="1"/>
<line x1="439.50" y1="661.2" x2="439.50" y2="663.7" stroke="#666" stroke-width="1"/>
<line x1="442.50" y1="661.2" x2="442.50" y2="663.7" stroke="#666" stroke-width="1"/>
<line x1="444.50" y1="661.2" x2="444.50" y2="663.7" stroke="#666" stroke-width="1"/>
<line x1="447.50" y1="661.2" x2="447.50" y2="663.7" stroke="#666" stroke-width="1"/>
<line x1="450.50" y1="661.2" x2="450.50" y2="663.7" stroke="#666" stroke-width="1"/>
<line x1="452.50" y1="661.2" x2="452.50" y2="663.7" stroke="#666" stroke-width="1"/>
<line x1="455.50" y1="661.2" x2="455.50" y2="665.7" stroke="#8a8a8a" stroke-width="1"/>
<line x1="457.50" y1="661.2" x2="457.50" y2="663.7" stroke="#666" stroke-width="1"/>
<line x1="460.50" y1="661.2" x2="460.50" y2="663.7" stroke="#666" stroke-width="1"/>
<line x1="463.50" y1="661.2" x2="463.50" y2="663.7" stroke="#666" stroke-width="1"/>
<line x1="465.50" y1="661.2" x2="465.50" y2="663.7" stroke="#666" stroke-width="1"/>
<line x1="468.50" y1="661.2" x2="468.50" y2="663.7" stroke="#666" stroke-width="1"/>
<line x1="471.50" y1="661.2" x2="471.50" y2="663.7" stroke="#666" stroke-width="1"/>
<line x1="473.50" y1="661.2" x2="473.50" y2="663.7" stroke="#666" stroke-width="1"/>
<line x1="476.50" y1="661.2" x2="476.50" y2="663.7" stroke="#666" stroke-width="1"/>
<line x1="478.50" y1="661.2" x2="478.50" y2="663.7" stroke="#666" stroke-width="1"/>
<line x1="481.50" y1="661.2" x2="481.50" y2="663.7" stroke="#666" stroke-width="1"/>
<line x1="484.50" y1="661.2" x2="484.50" y2="663.7" stroke="#666" stroke-width="1"/>
<line x1="486.50" y1="661.2" x2="486.50" y2="665.7" stroke="#8a8a8a" stroke-width="1"/>
<line x1="489.50" y1="661.2" x2="489.50" y2="663.7" stroke="#666" stroke-width="1"/>
<line x1="492.50" y1="661.2" x2="492.50" y2="663.7" stroke="#666" stroke-width="1"/>
<line x1="494.50" y1="661.2" x2="494.50" y2="663.7" stroke="#666" stroke-width="1"/>
<line x1="497.50" y1="661.2" x2="497.50" y2="663.7" stroke="#666" stroke-width="1"/>
<line x1="500.50" y1="661.2" x2="500.50" y2="663.7" stroke="#666" stroke-width="1"/>
<line x1="502.50" y1="661.2" x2="502.50" y2="663.7" stroke="#666" stroke-width="1"/>
<line x1="505.50" y1="661.2" x2="505.50" y2="663.7" stroke="#666" stroke-width="1"/>
<line x1="507.50" y1="661.2" x2="507.50" y2="663.7" stroke="#666" stroke-width="1"/>
<line x1="510.50" y1="661.2" x2="510.50" y2="663.7" stroke="#666" stroke-width="1"/>
<line x1="513.50" y1="661.2" x2="513.50" y2="663.7" stroke="#666" stroke-width="1"/>
<line x1="515.50" y1="661.2" x2="515.50" y2="663.7" stroke="#666" stroke-width="1"/>
<line x1="518.50" y1="661.2" x2="518.50" y2="665.7" stroke="#8a8a8a" stroke-width="1"/>
<line x1="521.50" y1="661.2" x2="521.50" y2="663.7" stroke="#666" stroke-width="1"/>
<line x1="523.50" y1="661.2" x2="523.50" y2="663.7" stroke="#666" stroke-width="1"/>
<line x1="526.50" y1="661.2" x2="526.50" y2="663.7" stroke="#666" stroke-width="1"/>
<line x1="528.50" y1="661.2" x2="528.50" y2="663.7" stroke="#666" stroke-width="1"/>
<line x1="531.50" y1="661.2" x2="531.50" y2="663.7" stroke="#666" stroke-width="1"/>
<line x1="534.50" y1="661.2" x2="534.50" y2="663.7" stroke="#666" stroke-width="1"/>
<line x1="536.50" y1="661.2" x2="536.50" y2="663.7" stroke="#666" stroke-width="1"/>
<line x1="539.50" y1="661.2" x2="539.50" y2="663.7" stroke="#666" stroke-width="1"/>
<line x1="542.50" y1="661.2" x2="542.50" y2="663.7" stroke="#666" stroke-width="1"/>
<line x1="544.50" y1="661.2" x2="544.50" y2="663.7" stroke="#666" stroke-width="1"/>
<line x1="547.50" y1="661.2" x2="547.50" y2="663.7" stroke="#666" stroke-width="1"/>
<line x1="550.50" y1="661.2" x2="550.50" y2="665.7" stroke="#8a8a8a" stroke-width="1"/>
<line x1="552.50" y1="661.2" x2="552.50" y2="663.7" stroke="#666" stroke-width="1"/>
<line x1="555.50" y1="661.2" x2="555.50" y2="663.7" stroke="#666" stroke-width="1"/>
<line x1="557.50" y1="661.2" x2="557.50" y2="663.7" stroke="#666" stroke-width="1"/>
<line x1="560.50" y1="661.2" x2="560.50" y2="663.7" stroke="#666" stroke-width="1"/>
<line x1="563.50" y1="661.2" x2="563.50" y2="663.7" stroke="#666" stroke-width="1"/>
<line x1="565.50" y1="661.2" x2="565.50" y2="663.7" stroke="#666" stroke-width="1"/>
<line x1="568.50" y1="661.2" x2="568.50" y2="663.7" stroke="#666" stroke-width="1"/>
<line x1="571.50" y1="661.2" x2="571.50" y2="663.7" stroke="#666" stroke-width="1"/>
<line x1="573.50" y1="661.2" x2="573.50" y2="663.7" stroke="#666" stroke-width="1"/>
<line x1="576.50" y1="661.2" x2="576.50" y2="663.7" stroke="#666" stroke-width="1"/>
<line x1="578.50" y1="661.2" x2="578.50" y2="663.7" stroke="#666" stroke-width="1"/>
<line x1="581.50" y1="661.2" x2="581.50" y2="665.7" stroke="#8a8a8a" stroke-width="1"/>
<line x1="584.50" y1="661.2" x2="584.50" y2="663.7" stroke="#666" stroke-width="1"/>
<line x1="586.50" y1="661.2" x2="586.50" y2="663.7" stroke="#666" stroke-width="1"/>
<line x1="589.50" y1="661.2" x2="589.50" y2="663.7" stroke="#666" stroke-width="1"/>
<line x1="592.50" y1="661.2" x2="592.50" y2="663.7" stroke="#666" stroke-width="1"/>
<line x1="594.50" y1="661.2" x2="594.50" y2="663.7" stroke="#666" stroke-width="1"/>
<line x1="597.50" y1="661.2" x2="597.50" y2="663.7" stroke="#666" stroke-width="1"/>
<line x1="599.50" y1="661.2" x2="599.50" y2="663.7" stroke="#666" stroke-width="1"/>
<line x1="602.50" y1="661.2" x2="602.50" y2="663.7" stroke="#666" stroke-width="1"/>
<line x1="605.50" y1="661.2" x2="605.50" y2="663.7" stroke="#666" stroke-width="1"/>
<line x1="607.50" y1="661.2" x2="607.50" y2="663.7" stroke="#666" stroke-width="1"/>
<line x1="610.50" y1="661.2" x2="610.50" y2="663.7" stroke="#666" stroke-width="1"/>
<line x1="613.50" y1="661.2" x2="613.50" y2="665.7" stroke="#8a8a8a" stroke-width="1"/>
<line x1="615.50" y1="661.2" x2="615.50" y2="663.7" stroke="#666" stroke-width="1"/>
<line x1="618.50" y1="661.2" x2="618.50" y2="663.7" stroke="#666" stroke-width="1"/>
<line x1="621.50" y1="661.2" x2="621.50" y2="663.7" stroke="#666" stroke-width="1"/>
<line x1="623.50" y1="661.2" x2="623.50" y2="663.7" stroke="#666" stroke-width="1"/>
<line x1="626.50" y1="661.2" x2="626.50" y2="663.7" stroke="#666" stroke-width="1"/>
<line x1="628.50" y1="661.2" x2="628.50" y2="663.7" stroke="#666" stroke-width="1"/>
<line x1="631.50" y1="661.2" x2="631.50" y2="663.7" stroke="#666" stroke-width="1"/>
<line x1="634.50" y1="661.2" x2="634.50" y2="663.7" stroke="#666" stroke-width="1"/>
<line x1="636.50" y1="661.2" x2="636.50" y2="663.7" stroke="#666" stroke-width="1"/>
<line x1="639.50" y1="661.2" x2="639.50" y2="663.7" stroke="#666" stroke-width="1"/>
<line x1="642.50" y1="661.2" x2="642.50" y2="663.7" stroke="#666" stroke-width="1"/>
<line x1="644.50" y1="661.2" x2="644.50" y2="665.7" stroke="#8a8a8a" stroke-width="1"/>
<line x1="647.50" y1="661.2" x2="647.50" y2="663.7" stroke="#666" stroke-width="1"/>
<line x1="649.50" y1="661.2" x2="649.50" y2="663.7" stroke="#666" stroke-width="1"/>
<line x1="652.50" y1="661.2" x2="652.50" y2="663.7" stroke="#666" stroke-width="1"/>












<rect x="401.4" y="489" width="40.90" height="24.20" fill="#fff"/>
<line x1="401.4" y1="489" x2="442.3" y2="489" stroke="#808080" stroke-width="1" stroke-linecap="square"/>
<line x1="442.3" y1="489" x2="442.3" y2="513.2" stroke="#b0b0b0" stroke-width="1" stroke-linecap="square"/>
<line x1="401.4" y1="513.2" x2="442.3" y2="513.2" stroke="#808080" stroke-width="1" stroke-linecap="square"/>
<line x1="401.4" y1="489" x2="401.4" y2="513.2" stroke="#707070" stroke-width="1" stroke-linecap="square"/>
<line x1="405.3" y1="495.5" x2="420.1" y2="495.5" stroke="#5a5ab8" stroke-width="1"/>
<line x1="405.3" y1="505.8" x2="420.1" y2="505.8" stroke="#c05058" stroke-width="1"/>


<rect x="0" y="705.5" width="333" height="233.5" fill="url(#g)"/>
<rect x="41.3" y="714.2" width="259.40" height="189.80" fill="#fff"/>
<clipPath id="c6"><rect x="41.3" y="714.2" width="259.40" height="189.80"/></clipPath>
<polyline clip-path="url(#c6)" points="42.9,830.9 45.3,816.8 48.2,822.7 50.8,827.9 53.5,809.8 55.8,805.1 58.5,817.8 61.3,791.1 64.3,838.5 69.3,794.0 71.8,813.3 74.5,801.8 77.2,804.5 79.8,796.9 82.4,822.1 85.1,796.9 87.8,803.9 90.3,789.9 92.9,781.7 95.6,843.2 98.5,808.6 100.9,797.5 103.8,805.7 106.3,799.3 109.1,825.6 111.4,819.2 114.1,792.8 116.7,827.9 119.6,789.0 122.3,826.8 124.9,798.1 127.5,816.6 130.2,794.6 132.9,818.9 135.4,808.6 138.0,827.9 140.7,809.2 143.4,826.8 146.2,812.1 148.9,809.2 151.2,813.3 153.6,827.1 156.5,787.3 159.1,812.4 161.8,792.2 164.5,840.0 167.0,803.4 169.6,809.8 172.3,783.8 174.6,810.8 177.6,766.8 180.4,788.8 182.9,797.6 185.7,722.9 188.7,870.5 191.3,808.1 194.5,813.4 198.4,836.2 201.0,813.4 204.0,754.0 206.8,804.6 209.3,797.6 212.4,838.0 215.0,827.5 217.3,782.7 219.8,838.9 222.6,814.3 226.1,823.1 230.0,834.5 232.6,788.8 235.6,737.8 237.8,762.4 240.9,809.8 243.4,836.1 246.2,778.5 248.6,818.6 251.8,809.8 254.4,802.4 257.1,863.3 262.0,807.2 264.4,804.5 267.6,752.7 270.2,824.7 272.9,809.8 275.5,823.8 278.1,809.4 280.8,816.8 283.4,785.2 286.0,802.8 288.7,792.2 291.3,792.2 293.9,818.9 296.6,796.1 299.5,819.4" fill="none" stroke="#c43444" stroke-width="0.85" stroke-linejoin="round"/>
<polyline clip-path="url(#c6)" points="42.9,835.0 45.9,841.4 48.2,849.6 50.8,858.0 53.5,858.7 55.8,856.9 58.7,861.1 61.3,852.5 64.0,864.6 66.7,870.9 69.3,865.0 71.8,866.6 74.5,863.6 77.2,861.9 79.8,856.4 82.4,861.9 85.1,856.4 87.8,853.1 90.3,842.6 92.9,826.0 94.1,832.0 95.6,846.7 98.3,847.8 100.9,842.0 103.8,839.1 106.3,833.8 108.5,842.6 111.4,848.2 114.1,840.0 116.7,850.2 119.6,838.8 122.3,848.2 124.9,843.2 127.5,846.7 130.2,838.8 132.9,844.3 135.4,844.7 138.0,854.0 140.7,855.2 143.4,863.4 146.0,865.0 148.9,865.4 151.2,868.1 153.6,873.6 156.5,865.8 159.1,866.9 161.8,859.5 164.5,872.8 167.0,870.4 169.6,870.1 172.5,859.5 174.6,859.1 177.3,838.0 179.9,823.9 182.9,816.0 185.7,769.5 188.2,796.2 191.3,796.2 194.8,799.3 198.0,823.9 200.5,825.3 203.6,780.9 206.8,773.9 209.3,763.3 215.0,809.0 217.3,792.3 220.3,812.5 223.0,815.5 226.5,825.7 230.9,850.3 233.9,827.5 236.0,760.6 237.4,731.7 240.9,727.6 243.4,761.0 246.5,724.1 249.2,736.1 251.8,737.5 254.4,729.9 256.7,771.2 259.7,816.8 262.3,814.2 265.0,811.2 267.6,761.0 270.2,775.6 272.9,776.4 275.5,790.8 278.1,791.4 280.8,797.5 283.0,776.4 286.0,770.8 288.7,750.1 291.3,732.9 293.9,745.2 296.6,728.7 299.5,741.7" fill="none" stroke="#3a34b0" stroke-width="0.85" stroke-linejoin="round"/>
<line x1="41.3" y1="714.2" x2="300.7" y2="714.2" stroke="#999999" stroke-width="1" stroke-linecap="square"/>
<line x1="300.7" y1="714.2" x2="300.7" y2="904" stroke="#a8a8a8" stroke-width="1" stroke-linecap="square"/>
<line x1="41.3" y1="904" x2="300.7" y2="904" stroke="#707070" stroke-width="1" stroke-linecap="square"/>
<line x1="41.3" y1="714.2" x2="41.3" y2="904" stroke="#bbbbbb" stroke-width="1" stroke-linecap="square"/>
<line x1="38.3" y1="714.20" x2="41.3" y2="714.20" stroke="#555" stroke-width="1"/>

<line x1="38.3" y1="745.83" x2="41.3" y2="745.83" stroke="#555" stroke-width="1"/>

<line x1="38.3" y1="777.47" x2="41.3" y2="777.47" stroke="#555" stroke-width="1"/>

<line x1="38.3" y1="809.10" x2="41.3" y2="809.10" stroke="#555" stroke-width="1"/>

<line x1="38.3" y1="840.73" x2="41.3" y2="840.73" stroke="#555" stroke-width="1"/>

<line x1="38.3" y1="872.37" x2="41.3" y2="872.37" stroke="#555" stroke-width="1"/>

<line x1="38.3" y1="904.00" x2="41.3" y2="904.00" stroke="#555" stroke-width="1"/>

<line x1="300.7" y1="714.20" x2="303.7" y2="714.20" stroke="#555" stroke-width="1"/>

<line x1="300.7" y1="745.83" x2="303.7" y2="745.83" stroke="#555" stroke-width="1"/>

<line x1="300.7" y1="777.47" x2="303.7" y2="777.47" stroke="#555" stroke-width="1"/>

<line x1="300.7" y1="809.10" x2="303.7" y2="809.10" stroke="#555" stroke-width="1"/>

<line x1="300.7" y1="840.73" x2="303.7" y2="840.73" stroke="#555" stroke-width="1"/>

<line x1="300.7" y1="872.37" x2="303.7" y2="872.37" stroke="#555" stroke-width="1"/>

<line x1="300.7" y1="904.00" x2="303.7" y2="904.00" stroke="#555" stroke-width="1"/>

<line x1="41.50" y1="904" x2="41.50" y2="906.5" stroke="#666" stroke-width="1"/>
<line x1="43.50" y1="904" x2="43.50" y2="906.5" stroke="#666" stroke-width="1"/>
<line x1="46.50" y1="904" x2="46.50" y2="906.5" stroke="#666" stroke-width="1"/>
<line x1="49.50" y1="904" x2="49.50" y2="906.5" stroke="#666" stroke-width="1"/>
<line x1="51.50" y1="904" x2="51.50" y2="906.5" stroke="#666" stroke-width="1"/>
<line x1="54.50" y1="904" x2="54.50" y2="906.5" stroke="#666" stroke-width="1"/>
<line x1="57.50" y1="904" x2="57.50" y2="906.5" stroke="#666" stroke-width="1"/>
<line x1="59.50" y1="904" x2="59.50" y2="906.5" stroke="#666" stroke-width="1"/>
<line x1="62.50" y1="904" x2="62.50" y2="906.5" stroke="#666" stroke-width="1"/>
<line x1="65.50" y1="904" x2="65.50" y2="906.5" stroke="#666" stroke-width="1"/>
<line x1="67.50" y1="904" x2="67.50" y2="906.5" stroke="#666" stroke-width="1"/>
<line x1="70.50" y1="904" x2="70.50" y2="908.5" stroke="#8a8a8a" stroke-width="1"/>
<line x1="73.50" y1="904" x2="73.50" y2="906.5" stroke="#666" stroke-width="1"/>
<line x1="75.50" y1="904" x2="75.50" y2="906.5" stroke="#666" stroke-width="1"/>
<line x1="78.50" y1="904" x2="78.50" y2="906.5" stroke="#666" stroke-width="1"/>
<line x1="81.50" y1="904" x2="81.50" y2="906.5" stroke="#666" stroke-width="1"/>
<line x1="83.50" y1="904" x2="83.50" y2="906.5" stroke="#666" stroke-width="1"/>
<line x1="86.50" y1="904" x2="86.50" y2="906.5" stroke="#666" stroke-width="1"/>
<line x1="88.50" y1="904" x2="88.50" y2="906.5" stroke="#666" stroke-width="1"/>
<line x1="91.50" y1="904" x2="91.50" y2="906.5" stroke="#666" stroke-width="1"/>
<line x1="94.50" y1="904" x2="94.50" y2="906.5" stroke="#666" stroke-width="1"/>
<line x1="96.50" y1="904" x2="96.50" y2="906.5" stroke="#666" stroke-width="1"/>
<line x1="99.50" y1="904" x2="99.50" y2="906.5" stroke="#666" stroke-width="1"/>
<line x1="102.50" y1="904" x2="102.50" y2="908.5" stroke="#8a8a8a" stroke-width="1"/>
<line x1="104.50" y1="904" x2="104.50" y2="906.5" stroke="#666" stroke-width="1"/>
<line x1="107.50" y1="904" x2="107.50" y2="906.5" stroke="#666" stroke-width="1"/>
<line x1="110.50" y1="904" x2="110.50" y2="906.5" stroke="#666" stroke-width="1"/>
<line x1="112.50" y1="904" x2="112.50" y2="906.5" stroke="#666" stroke-width="1"/>
<line x1="115.50" y1="904" x2="115.50" y2="906.5" stroke="#666" stroke-width="1"/>
<line x1="118.50" y1="904" x2="118.50" y2="906.5" stroke="#666" stroke-width="1"/>
<line x1="120.50" y1="904" x2="120.50" y2="906.5" stroke="#666" stroke-width="1"/>
<line x1="123.50" y1="904" x2="123.50" y2="906.5" stroke="#666" stroke-width="1"/>
<line x1="126.50" y1="904" x2="126.50" y2="906.5" stroke="#666" stroke-width="1"/>
<line x1="128.50" y1="904" x2="128.50" y2="906.5" stroke="#666" stroke-width="1"/>
<line x1="131.50" y1="904" x2="131.50" y2="906.5" stroke="#666" stroke-width="1"/>
<line x1="133.50" y1="904" x2="133.50" y2="908.5" stroke="#8a8a8a" stroke-width="1"/>
<line x1="136.50" y1="904" x2="136.50" y2="906.5" stroke="#666" stroke-width="1"/>
<line x1="139.50" y1="904" x2="139.50" y2="906.5" stroke="#666" stroke-width="1"/>
<line x1="141.50" y1="904" x2="141.50" y2="906.5" stroke="#666" stroke-width="1"/>
<line x1="144.50" y1="904" x2="144.50" y2="906.5" stroke="#666" stroke-width="1"/>
<line x1="147.50" y1="904" x2="147.50" y2="906.5" stroke="#666" stroke-width="1"/>
<line x1="149.50" y1="904" x2="149.50" y2="906.5" stroke="#666" stroke-width="1"/>
<line x1="152.50" y1="904" x2="152.50" y2="906.5" stroke="#666" stroke-width="1"/>
<line x1="155.50" y1="904" x2="155.50" y2="906.5" stroke="#666" stroke-width="1"/>
<line x1="157.50" y1="904" x2="157.50" y2="906.5" stroke="#666" stroke-width="1"/>
<line x1="160.50" y1="904" x2="160.50" y2="906.5" stroke="#666" stroke-width="1"/>
<line x1="163.50" y1="904" x2="163.50" y2="906.5" stroke="#666" stroke-width="1"/>
<line x1="165.50" y1="904" x2="165.50" y2="908.5" stroke="#8a8a8a" stroke-width="1"/>
<line x1="168.50" y1="904" x2="168.50" y2="906.5" stroke="#666" stroke-width="1"/>
<line x1="171.50" y1="904" x2="171.50" y2="906.5" stroke="#666" stroke-width="1"/>
<line x1="173.50" y1="904" x2="173.50" y2="906.5" stroke="#666" stroke-width="1"/>
<line x1="176.50" y1="904" x2="176.50" y2="906.5" stroke="#666" stroke-width="1"/>
<line x1="178.50" y1="904" x2="178.50" y2="906.5" stroke="#666" stroke-width="1"/>
<line x1="181.50" y1="904" x2="181.50" y2="906.5" stroke="#666" stroke-width="1"/>
<line x1="184.50" y1="904" x2="184.50" y2="906.5" stroke="#666" stroke-width="1"/>
<line x1="186.50" y1="904" x2="186.50" y2="906.5" stroke="#666" stroke-width="1"/>
<line x1="189.50" y1="904" x2="189.50" y2="906.5" stroke="#666" stroke-width="1"/>
<line x1="192.50" y1="904" x2="192.50" y2="906.5" stroke="#666" stroke-width="1"/>
<line x1="194.50" y1="904" x2="194.50" y2="906.5" stroke="#666" stroke-width="1"/>
<line x1="197.50" y1="904" x2="197.50" y2="908.5" stroke="#8a8a8a" stroke-width="1"/>
<line x1="200.50" y1="904" x2="200.50" y2="906.5" stroke="#666" stroke-width="1"/>
<line x1="202.50" y1="904" x2="202.50" y2="906.5" stroke="#666" stroke-width="1"/>
<line x1="205.50" y1="904" x2="205.50" y2="906.5" stroke="#666" stroke-width="1"/>
<line x1="208.50" y1="904" x2="208.50" y2="906.5" stroke="#666" stroke-width="1"/>
<line x1="210.50" y1="904" x2="210.50" y2="906.5" stroke="#666" stroke-width="1"/>
<line x1="213.50" y1="904" x2="213.50" y2="906.5" stroke="#666" stroke-width="1"/>
<line x1="215.50" y1="904" x2="215.50" y2="906.5" stroke="#666" stroke-width="1"/>
<line x1="218.50" y1="904" x2="218.50" y2="906.5" stroke="#666" stroke-width="1"/>
<line x1="221.50" y1="904" x2="221.50" y2="906.5" stroke="#666" stroke-width="1"/>
<line x1="223.50" y1="904" x2="223.50" y2="906.5" stroke="#666" stroke-width="1"/>
<line x1="226.50" y1="904" x2="226.50" y2="906.5" stroke="#666" stroke-width="1"/>
<line x1="229.50" y1="904" x2="229.50" y2="908.5" stroke="#8a8a8a" stroke-width="1"/>
<line x1="231.50" y1="904" x2="231.50" y2="906.5" stroke="#666" stroke-width="1"/>
<line x1="234.50" y1="904" x2="234.50" y2="906.5" stroke="#666" stroke-width="1"/>
<line x1="237.50" y1="904" x2="237.50" y2="906.5" stroke="#666" stroke-width="1"/>
<line x1="239.50" y1="904" x2="239.50" y2="906.5" stroke="#666" stroke-width="1"/>
<line x1="242.50" y1="904" x2="242.50" y2="906.5" stroke="#666" stroke-width="1"/>
<line x1="245.50" y1="904" x2="245.50" y2="906.5" stroke="#666" stroke-width="1"/>
<line x1="247.50" y1="904" x2="247.50" y2="906.5" stroke="#666" stroke-width="1"/>
<line x1="250.50" y1="904" x2="250.50" y2="906.5" stroke="#666" stroke-width="1"/>
<line x1="253.50" y1="904" x2="253.50" y2="906.5" stroke="#666" stroke-width="1"/>
<line x1="255.50" y1="904" x2="255.50" y2="906.5" stroke="#666" stroke-width="1"/>
<line x1="258.50" y1="904" x2="258.50" y2="906.5" stroke="#666" stroke-width="1"/>
<line x1="260.50" y1="904" x2="260.50" y2="908.5" stroke="#8a8a8a" stroke-width="1"/>
<line x1="263.50" y1="904" x2="263.50" y2="906.5" stroke="#666" stroke-width="1"/>
<line x1="266.50" y1="904" x2="266.50" y2="906.5" stroke="#666" stroke-width="1"/>
<line x1="268.50" y1="904" x2="268.50" y2="906.5" stroke="#666" stroke-width="1"/>
<line x1="271.50" y1="904" x2="271.50" y2="906.5" stroke="#666" stroke-width="1"/>
<line x1="274.50" y1="904" x2="274.50" y2="906.5" stroke="#666" stroke-width="1"/>
<line x1="276.50" y1="904" x2="276.50" y2="906.5" stroke="#666" stroke-width="1"/>
<line x1="279.50" y1="904" x2="279.50" y2="906.5" stroke="#666" stroke-width="1"/>
<line x1="282.50" y1="904" x2="282.50" y2="906.5" stroke="#666" stroke-width="1"/>
<line x1="284.50" y1="904" x2="284.50" y2="906.5" stroke="#666" stroke-width="1"/>
<line x1="287.50" y1="904" x2="287.50" y2="906.5" stroke="#666" stroke-width="1"/>
<line x1="290.50" y1="904" x2="290.50" y2="906.5" stroke="#666" stroke-width="1"/>
<line x1="292.50" y1="904" x2="292.50" y2="908.5" stroke="#8a8a8a" stroke-width="1"/>
<line x1="295.50" y1="904" x2="295.50" y2="906.5" stroke="#666" stroke-width="1"/>
<line x1="298.50" y1="904" x2="298.50" y2="906.5" stroke="#666" stroke-width="1"/>
<line x1="300.50" y1="904" x2="300.50" y2="906.5" stroke="#666" stroke-width="1"/>












<rect x="44.5" y="719.4" width="44.30" height="24.90" fill="#fff"/>
<line x1="44.5" y1="719.4" x2="88.8" y2="719.4" stroke="#909090" stroke-width="1" stroke-linecap="square"/>
<line x1="88.8" y1="719.4" x2="88.8" y2="744.3" stroke="#707070" stroke-width="1" stroke-linecap="square"/>
<line x1="44.5" y1="719.4" x2="44.5" y2="744.3" stroke="#b0b0b0" stroke-width="1" stroke-linecap="square"/>
<line x1="48.2" y1="726.6" x2="63.2" y2="726.6" stroke="#5a5ab8" stroke-width="1"/>
<line x1="48.2" y1="737.6" x2="63.2" y2="737.6" stroke="#c05058" stroke-width="1"/>


</g>
<g filter="url(#bl2)">
<text transform="translate(31.50,10.60) scale(0.8,1)" font-size="9.2" text-anchor="end" fill="#000">36</text>
<text transform="translate(31.50,49.00) scale(0.8,1)" font-size="9.2" text-anchor="end" fill="#000">32</text>
<text transform="translate(31.50,87.40) scale(0.8,1)" font-size="9.2" text-anchor="end" fill="#000">28</text>
<text transform="translate(31.50,125.80) scale(0.8,1)" font-size="9.2" text-anchor="end" fill="#000">24</text>
<text transform="translate(31.50,164.20) scale(0.8,1)" font-size="9.2" text-anchor="end" fill="#000">20</text>
<text transform="translate(31.50,202.60) scale(0.8,1)" font-size="9.2" text-anchor="end" fill="#000">16</text>
<text transform="translate(302.50,10.60) scale(0.8,1)" font-size="9.2" text-anchor="start" fill="#000">.1</text>
<text transform="translate(302.50,49.00) scale(0.8,1)" font-size="9.2" text-anchor="start" fill="#000">.0</text>
<text transform="translate(302.50,87.40) scale(0.8,1)" font-size="9.2" text-anchor="start" fill="#000">-.1</text>
<text transform="translate(302.50,125.80) scale(0.8,1)" font-size="9.2" text-anchor="start" fill="#000">-.2</text>
<text transform="translate(302.50,164.20) scale(0.8,1)" font-size="9.2" text-anchor="start" fill="#000">-.3</text>
<text transform="translate(302.50,202.60) scale(0.8,1)" font-size="9.2" text-anchor="start" fill="#000">-.4</text>
<text transform="translate(50.29,214.80) scale(0.775,1)" font-size="9.3" text-anchor="middle" fill="#000">2014</text>
<text transform="translate(82.19,214.80) scale(0.775,1)" font-size="9.3" text-anchor="middle" fill="#000">2015</text>
<text transform="translate(114.09,214.80) scale(0.775,1)" font-size="9.3" text-anchor="middle" fill="#000">2016</text>
<text transform="translate(145.98,214.80) scale(0.775,1)" font-size="9.3" text-anchor="middle" fill="#000">2017</text>
<text transform="translate(177.88,214.80) scale(0.775,1)" font-size="9.3" text-anchor="middle" fill="#000">2018</text>
<text transform="translate(209.78,214.80) scale(0.775,1)" font-size="9.3" text-anchor="middle" fill="#000">2019</text>
<text transform="translate(241.68,214.80) scale(0.775,1)" font-size="9.3" text-anchor="middle" fill="#000">2020</text>
<text transform="translate(273.58,214.80) scale(0.775,1)" font-size="9.3" text-anchor="middle" fill="#000">2021</text>
<text transform="translate(297.50,214.80) scale(0.775,1)" font-size="9.3" text-anchor="middle" fill="#000">2022</text>
<text transform="translate(12.15,104.25) rotate(-90) scale(1,0.85)" font-size="8.7" text-anchor="middle" fill="#000">Price</text>
<text transform="translate(322.25,102.00) rotate(-90) scale(1,0.85)" font-size="8.7" text-anchor="middle" fill="#000">Return</text>
<text transform="translate(167.40,236.80) scale(0.78,1)" font-size="9" text-anchor="middle" fill="#000">Year</text>
<text transform="translate(62.80,19.60) scale(0.82,1)" font-size="8.8" text-anchor="start" fill="#000">US_p</text>
<text transform="translate(62.80,31.00) scale(0.82,1)" font-size="8.8" text-anchor="start" fill="#000">US_r</text>
<text transform="translate(384.50,11.60) scale(0.8,1)" font-size="9.2" text-anchor="end" fill="#000">700</text>
<text transform="translate(384.50,43.77) scale(0.8,1)" font-size="9.2" text-anchor="end" fill="#000">600</text>
<text transform="translate(384.50,75.93) scale(0.8,1)" font-size="9.2" text-anchor="end" fill="#000">500</text>
<text transform="translate(384.50,108.10) scale(0.8,1)" font-size="9.2" text-anchor="end" fill="#000">400</text>
<text transform="translate(384.50,140.27) scale(0.8,1)" font-size="9.2" text-anchor="end" fill="#000">300</text>
<text transform="translate(384.50,172.43) scale(0.8,1)" font-size="9.2" text-anchor="end" fill="#000">200</text>
<text transform="translate(384.50,204.60) scale(0.8,1)" font-size="9.2" text-anchor="end" fill="#000">100</text>
<text transform="translate(660.50,11.60) scale(0.8,1)" font-size="9.2" text-anchor="start" fill="#000">.8</text>
<text transform="translate(660.50,43.77) scale(0.8,1)" font-size="9.2" text-anchor="start" fill="#000">.6</text>
<text transform="translate(660.50,75.93) scale(0.8,1)" font-size="9.2" text-anchor="start" fill="#000">.4</text>
<text transform="translate(660.50,108.10) scale(0.8,1)" font-size="9.2" text-anchor="start" fill="#000">.2</text>
<text transform="translate(660.50,140.27) scale(0.8,1)" font-size="9.2" text-anchor="start" fill="#000">.0</text>
<text transform="translate(660.50,172.43) scale(0.8,1)" font-size="9.2" text-anchor="start" fill="#000">-.2</text>
<text transform="translate(660.50,204.60) scale(0.8,1)" font-size="9.2" text-anchor="start" fill="#000">-.4</text>
<text transform="translate(403.55,216.80) scale(0.775,1)" font-size="9.3" text-anchor="middle" fill="#000">2014</text>
<text transform="translate(436.06,216.80) scale(0.775,1)" font-size="9.3" text-anchor="middle" fill="#000">2015</text>
<text transform="translate(468.57,216.80) scale(0.775,1)" font-size="9.3" text-anchor="middle" fill="#000">2016</text>
<text transform="translate(501.08,216.80) scale(0.775,1)" font-size="9.3" text-anchor="middle" fill="#000">2017</text>
<text transform="translate(533.59,216.80) scale(0.775,1)" font-size="9.3" text-anchor="middle" fill="#000">2018</text>
<text transform="translate(566.10,216.80) scale(0.775,1)" font-size="9.3" text-anchor="middle" fill="#000">2019</text>
<text transform="translate(598.61,216.80) scale(0.775,1)" font-size="9.3" text-anchor="middle" fill="#000">2020</text>
<text transform="translate(631.12,216.80) scale(0.775,1)" font-size="9.3" text-anchor="middle" fill="#000">2021</text>
<text transform="translate(655.50,216.80) scale(0.775,1)" font-size="9.3" text-anchor="middle" fill="#000">2022</text>
<text transform="translate(361.15,105.60) rotate(-90) scale(1,0.85)" font-size="8.7" text-anchor="middle" fill="#000">Price</text>
<text transform="translate(678.15,102.00) rotate(-90) scale(1,0.85)" font-size="8.7" text-anchor="middle" fill="#000">Return</text>
<text transform="translate(522.50,239.00) scale(0.78,1)" font-size="9" text-anchor="middle" fill="#000">Year</text>
<text transform="translate(425.30,25.60) scale(0.82,1)" font-size="8.8" text-anchor="start" fill="#000">BR_p</text>
<text transform="translate(425.30,37.30) scale(0.82,1)" font-size="8.8" text-anchor="start" fill="#000">BR_r</text>
<text transform="translate(37.50,262.10) scale(0.8,1)" font-size="9.2" text-anchor="end" fill="#000">900</text>
<text transform="translate(37.50,287.24) scale(0.8,1)" font-size="9.2" text-anchor="end" fill="#000">800</text>
<text transform="translate(37.50,312.39) scale(0.8,1)" font-size="9.2" text-anchor="end" fill="#000">700</text>
<text transform="translate(37.50,337.53) scale(0.8,1)" font-size="9.2" text-anchor="end" fill="#000">600</text>
<text transform="translate(37.50,362.67) scale(0.8,1)" font-size="9.2" text-anchor="end" fill="#000">500</text>
<text transform="translate(37.50,387.81) scale(0.8,1)" font-size="9.2" text-anchor="end" fill="#000">400</text>
<text transform="translate(37.50,412.96) scale(0.8,1)" font-size="9.2" text-anchor="end" fill="#000">300</text>
<text transform="translate(37.50,438.10) scale(0.8,1)" font-size="9.2" text-anchor="end" fill="#000">200</text>
<text transform="translate(311.60,262.10) scale(0.8,1)" font-size="9.2" text-anchor="start" fill="#000">.4</text>
<text transform="translate(311.60,287.24) scale(0.8,1)" font-size="9.2" text-anchor="start" fill="#000">.3</text>
<text transform="translate(311.60,312.39) scale(0.8,1)" font-size="9.2" text-anchor="start" fill="#000">.2</text>
<text transform="translate(311.60,337.53) scale(0.8,1)" font-size="9.2" text-anchor="start" fill="#000">.1</text>
<text transform="translate(311.60,362.67) scale(0.8,1)" font-size="9.2" text-anchor="start" fill="#000">.0</text>
<text transform="translate(311.60,387.81) scale(0.8,1)" font-size="9.2" text-anchor="start" fill="#000">-.1</text>
<text transform="translate(311.60,412.96) scale(0.8,1)" font-size="9.2" text-anchor="start" fill="#000">-.2</text>
<text transform="translate(311.60,438.10) scale(0.8,1)" font-size="9.2" text-anchor="start" fill="#000">-.3</text>
<text transform="translate(56.45,450.30) scale(0.775,1)" font-size="9.3" text-anchor="middle" fill="#000">2014</text>
<text transform="translate(88.73,450.30) scale(0.775,1)" font-size="9.3" text-anchor="middle" fill="#000">2015</text>
<text transform="translate(121.00,450.30) scale(0.775,1)" font-size="9.3" text-anchor="middle" fill="#000">2016</text>
<text transform="translate(153.28,450.30) scale(0.775,1)" font-size="9.3" text-anchor="middle" fill="#000">2017</text>
<text transform="translate(185.56,450.30) scale(0.775,1)" font-size="9.3" text-anchor="middle" fill="#000">2018</text>
<text transform="translate(217.84,450.30) scale(0.775,1)" font-size="9.3" text-anchor="middle" fill="#000">2019</text>
<text transform="translate(250.11,450.30) scale(0.775,1)" font-size="9.3" text-anchor="middle" fill="#000">2020</text>
<text transform="translate(282.39,450.30) scale(0.775,1)" font-size="9.3" text-anchor="middle" fill="#000">2021</text>
<text transform="translate(306.60,450.30) scale(0.775,1)" font-size="9.3" text-anchor="middle" fill="#000">2022</text>
<text transform="translate(13.76,347.80) rotate(-90) scale(1,0.85)" font-size="8.1" text-anchor="middle" fill="#000">Price</text>
<text transform="translate(327.66,345.90) rotate(-90) scale(1,0.85)" font-size="8.1" text-anchor="middle" fill="#000">Return</text>
<text transform="translate(174.20,469.00) scale(0.78,1)" font-size="9" text-anchor="middle" fill="#000">Year</text>
<text transform="translate(272.90,274.90) scale(0.82,1)" font-size="8.8" text-anchor="start" fill="#000">RU_p</text>
<text transform="translate(272.90,285.20) scale(0.82,1)" font-size="8.8" text-anchor="start" fill="#000">RU_r</text>
<text transform="translate(380.00,262.60) scale(0.8,1)" font-size="9.2" text-anchor="end" fill="#000">240</text>
<text transform="translate(380.00,297.86) scale(0.8,1)" font-size="9.2" text-anchor="end" fill="#000">200</text>
<text transform="translate(380.00,333.12) scale(0.8,1)" font-size="9.2" text-anchor="end" fill="#000">160</text>
<text transform="translate(380.00,368.38) scale(0.8,1)" font-size="9.2" text-anchor="end" fill="#000">120</text>
<text transform="translate(380.00,403.64) scale(0.8,1)" font-size="9.2" text-anchor="end" fill="#000">80</text>
<text transform="translate(380.00,438.90) scale(0.8,1)" font-size="9.2" text-anchor="end" fill="#000">40</text>
<text transform="translate(652.60,262.60) scale(0.8,1)" font-size="9.2" text-anchor="start" fill="#000">1.6</text>
<text transform="translate(652.60,297.86) scale(0.8,1)" font-size="9.2" text-anchor="start" fill="#000">1.2</text>
<text transform="translate(652.60,333.12) scale(0.8,1)" font-size="9.2" text-anchor="start" fill="#000">0.8</text>
<text transform="translate(652.60,368.38) scale(0.8,1)" font-size="9.2" text-anchor="start" fill="#000">0.4</text>
<text transform="translate(652.60,403.64) scale(0.8,1)" font-size="9.2" text-anchor="start" fill="#000">0.0</text>
<text transform="translate(652.60,438.90) scale(0.8,1)" font-size="9.2" text-anchor="start" fill="#000">-0.4</text>
<text transform="translate(398.87,451.10) scale(0.775,1)" font-size="9.3" text-anchor="middle" fill="#000">2014</text>
<text transform="translate(430.97,451.10) scale(0.775,1)" font-size="9.3" text-anchor="middle" fill="#000">2015</text>
<text transform="translate(463.06,451.10) scale(0.775,1)" font-size="9.3" text-anchor="middle" fill="#000">2016</text>
<text transform="translate(495.15,451.10) scale(0.775,1)" font-size="9.3" text-anchor="middle" fill="#000">2017</text>
<text transform="translate(527.25,451.10) scale(0.775,1)" font-size="9.3" text-anchor="middle" fill="#000">2018</text>
<text transform="translate(559.34,451.10) scale(0.775,1)" font-size="9.3" text-anchor="middle" fill="#000">2019</text>
<text transform="translate(591.44,451.10) scale(0.775,1)" font-size="9.3" text-anchor="middle" fill="#000">2020</text>
<text transform="translate(623.53,451.10) scale(0.775,1)" font-size="9.3" text-anchor="middle" fill="#000">2021</text>
<text transform="translate(647.60,451.10) scale(0.775,1)" font-size="9.3" text-anchor="middle" fill="#000">2022</text>
<text transform="translate(356.93,348.40) rotate(-90) scale(1,0.85)" font-size="8.0" text-anchor="middle" fill="#000">Price</text>
<text transform="translate(673.43,345.80) rotate(-90) scale(1,0.85)" font-size="8.0" text-anchor="middle" fill="#000">Return</text>
<text transform="translate(516.50,469.10) scale(0.78,1)" font-size="9" text-anchor="middle" fill="#000">Year</text>
<text transform="translate(420.90,272.50) scale(0.82,1)" font-size="8.8" text-anchor="start" fill="#000">IN_p</text>
<text transform="translate(420.90,282.70) scale(0.82,1)" font-size="8.8" text-anchor="start" fill="#000">IN_r</text>
<text transform="translate(36.80,487.20) scale(0.8,1)" font-size="9.2" text-anchor="end" fill="#000">160</text>
<text transform="translate(36.80,512.37) scale(0.8,1)" font-size="9.2" text-anchor="end" fill="#000">140</text>
<text transform="translate(36.80,537.54) scale(0.8,1)" font-size="9.2" text-anchor="end" fill="#000">120</text>
<text transform="translate(36.80,562.71) scale(0.8,1)" font-size="9.2" text-anchor="end" fill="#000">100</text>
<text transform="translate(36.80,587.89) scale(0.8,1)" font-size="9.2" text-anchor="end" fill="#000">80</text>
<text transform="translate(36.80,613.06) scale(0.8,1)" font-size="9.2" text-anchor="end" fill="#000">60</text>
<text transform="translate(36.80,638.23) scale(0.8,1)" font-size="9.2" text-anchor="end" fill="#000">40</text>
<text transform="translate(36.80,663.40) scale(0.8,1)" font-size="9.2" text-anchor="end" fill="#000">20</text>
<text transform="translate(313.60,487.20) scale(0.8,1)" font-size="9.2" text-anchor="start" fill="#000">.4</text>
<text transform="translate(313.60,512.37) scale(0.8,1)" font-size="9.2" text-anchor="start" fill="#000">.3</text>
<text transform="translate(313.60,537.54) scale(0.8,1)" font-size="9.2" text-anchor="start" fill="#000">.2</text>
<text transform="translate(313.60,562.71) scale(0.8,1)" font-size="9.2" text-anchor="start" fill="#000">.1</text>
<text transform="translate(313.60,587.89) scale(0.8,1)" font-size="9.2" text-anchor="start" fill="#000">.0</text>
<text transform="translate(313.60,613.06) scale(0.8,1)" font-size="9.2" text-anchor="start" fill="#000">-.1</text>
<text transform="translate(313.60,638.23) scale(0.8,1)" font-size="9.2" text-anchor="start" fill="#000">-.2</text>
<text transform="translate(313.60,663.40) scale(0.8,1)" font-size="9.2" text-anchor="start" fill="#000">-.3</text>
<text transform="translate(55.89,675.60) scale(0.775,1)" font-size="9.3" text-anchor="middle" fill="#000">2014</text>
<text transform="translate(88.49,675.60) scale(0.775,1)" font-size="9.3" text-anchor="middle" fill="#000">2015</text>
<text transform="translate(121.10,675.60) scale(0.775,1)" font-size="9.3" text-anchor="middle" fill="#000">2016</text>
<text transform="translate(153.71,675.60) scale(0.775,1)" font-size="9.3" text-anchor="middle" fill="#000">2017</text>
<text transform="translate(186.32,675.60) scale(0.775,1)" font-size="9.3" text-anchor="middle" fill="#000">2018</text>
<text transform="translate(218.93,675.60) scale(0.775,1)" font-size="9.3" text-anchor="middle" fill="#000">2019</text>
<text transform="translate(251.54,675.60) scale(0.775,1)" font-size="9.3" text-anchor="middle" fill="#000">2020</text>
<text transform="translate(284.14,675.60) scale(0.775,1)" font-size="9.3" text-anchor="middle" fill="#000">2021</text>
<text transform="translate(308.60,675.60) scale(0.775,1)" font-size="9.3" text-anchor="middle" fill="#000">2022</text>
<text transform="translate(12.85,572.90) rotate(-90) scale(1,0.85)" font-size="8.05" text-anchor="middle" fill="#000">Price</text>
<text transform="translate(328.55,569.90) rotate(-90) scale(1,0.85)" font-size="8.05" text-anchor="middle" fill="#000">Return</text>
<text transform="translate(174.80,693.70) scale(0.78,1)" font-size="9" text-anchor="middle" fill="#000">Year</text>
<text transform="translate(65.40,496.10) scale(0.82,1)" font-size="8.8" text-anchor="start" fill="#000">CH_p</text>
<text transform="translate(65.40,507.00) scale(0.82,1)" font-size="8.8" text-anchor="start" fill="#000">CH_r</text>
<text transform="translate(389.30,488.80) scale(0.8,1)" font-size="9.2" text-anchor="end" fill="#000">400</text>
<text transform="translate(389.30,513.80) scale(0.8,1)" font-size="9.2" text-anchor="end" fill="#000">350</text>
<text transform="translate(389.30,538.80) scale(0.8,1)" font-size="9.2" text-anchor="end" fill="#000">300</text>
<text transform="translate(389.30,563.80) scale(0.8,1)" font-size="9.2" text-anchor="end" fill="#000">250</text>
<text transform="translate(389.30,588.80) scale(0.8,1)" font-size="9.2" text-anchor="end" fill="#000">200</text>
<text transform="translate(389.30,613.80) scale(0.8,1)" font-size="9.2" text-anchor="end" fill="#000">150</text>
<text transform="translate(389.30,638.80) scale(0.8,1)" font-size="9.2" text-anchor="end" fill="#000">100</text>
<text transform="translate(389.30,663.80) scale(0.8,1)" font-size="9.2" text-anchor="end" fill="#000">50</text>
<text transform="translate(657.60,488.80) scale(0.8,1)" font-size="9.2" text-anchor="start" fill="#000">1.0</text>
<text transform="translate(657.60,513.80) scale(0.8,1)" font-size="9.2" text-anchor="start" fill="#000">0.8</text>
<text transform="translate(657.60,538.80) scale(0.8,1)" font-size="9.2" text-anchor="start" fill="#000">0.6</text>
<text transform="translate(657.60,563.80) scale(0.8,1)" font-size="9.2" text-anchor="start" fill="#000">0.4</text>
<text transform="translate(657.60,588.80) scale(0.8,1)" font-size="9.2" text-anchor="start" fill="#000">0.2</text>
<text transform="translate(657.60,613.80) scale(0.8,1)" font-size="9.2" text-anchor="start" fill="#000">0.0</text>
<text transform="translate(657.60,638.80) scale(0.8,1)" font-size="9.2" text-anchor="start" fill="#000">-0.2</text>
<text transform="translate(657.60,663.80) scale(0.8,1)" font-size="9.2" text-anchor="start" fill="#000">-0.4</text>
<text transform="translate(407.95,676.00) scale(0.775,1)" font-size="9.3" text-anchor="middle" fill="#000">2014</text>
<text transform="translate(439.52,676.00) scale(0.775,1)" font-size="9.3" text-anchor="middle" fill="#000">2015</text>
<text transform="translate(471.09,676.00) scale(0.775,1)" font-size="9.3" text-anchor="middle" fill="#000">2016</text>
<text transform="translate(502.66,676.00) scale(0.775,1)" font-size="9.3" text-anchor="middle" fill="#000">2017</text>
<text transform="translate(534.22,676.00) scale(0.775,1)" font-size="9.3" text-anchor="middle" fill="#000">2018</text>
<text transform="translate(565.79,676.00) scale(0.775,1)" font-size="9.3" text-anchor="middle" fill="#000">2019</text>
<text transform="translate(597.36,676.00) scale(0.775,1)" font-size="9.3" text-anchor="middle" fill="#000">2020</text>
<text transform="translate(628.92,676.00) scale(0.775,1)" font-size="9.3" text-anchor="middle" fill="#000">2021</text>
<text transform="translate(652.60,676.00) scale(0.775,1)" font-size="9.3" text-anchor="middle" fill="#000">2022</text>
<text transform="translate(366.32,573.90) rotate(-90) scale(1,0.85)" font-size="7.95" text-anchor="middle" fill="#000">Price</text>
<text transform="translate(676.42,571.30) rotate(-90) scale(1,0.85)" font-size="7.95" text-anchor="middle" fill="#000">Return</text>
<text transform="translate(523.30,694.60) scale(0.78,1)" font-size="9" text-anchor="middle" fill="#000">Year</text>
<text transform="translate(423.70,498.70) scale(0.82,1)" font-size="8.8" text-anchor="start" fill="#000">ID_p</text>
<text transform="translate(423.70,509.00) scale(0.82,1)" font-size="8.8" text-anchor="start" fill="#000">ID_r</text>
<text transform="translate(35.80,716.80) scale(0.8,1)" font-size="9.2" text-anchor="end" fill="#000">700</text>
<text transform="translate(35.80,748.43) scale(0.8,1)" font-size="9.2" text-anchor="end" fill="#000">600</text>
<text transform="translate(35.80,780.07) scale(0.8,1)" font-size="9.2" text-anchor="end" fill="#000">500</text>
<text transform="translate(35.80,811.70) scale(0.8,1)" font-size="9.2" text-anchor="end" fill="#000">400</text>
<text transform="translate(35.80,843.33) scale(0.8,1)" font-size="9.2" text-anchor="end" fill="#000">300</text>
<text transform="translate(35.80,874.97) scale(0.8,1)" font-size="9.2" text-anchor="end" fill="#000">200</text>
<text transform="translate(35.80,906.60) scale(0.8,1)" font-size="9.2" text-anchor="end" fill="#000">100</text>
<text transform="translate(305.70,716.80) scale(0.8,1)" font-size="9.2" text-anchor="start" fill="#000">.6</text>
<text transform="translate(305.70,748.43) scale(0.8,1)" font-size="9.2" text-anchor="start" fill="#000">.4</text>
<text transform="translate(305.70,780.07) scale(0.8,1)" font-size="9.2" text-anchor="start" fill="#000">.2</text>
<text transform="translate(305.70,811.70) scale(0.8,1)" font-size="9.2" text-anchor="start" fill="#000">.0</text>
<text transform="translate(305.70,843.33) scale(0.8,1)" font-size="9.2" text-anchor="start" fill="#000">-.2</text>
<text transform="translate(305.70,874.97) scale(0.8,1)" font-size="9.2" text-anchor="start" fill="#000">-.4</text>
<text transform="translate(305.70,906.60) scale(0.8,1)" font-size="9.2" text-anchor="start" fill="#000">-.6</text>
<text transform="translate(54.53,918.80) scale(0.775,1)" font-size="9.3" text-anchor="middle" fill="#000">2014</text>
<text transform="translate(86.30,918.80) scale(0.775,1)" font-size="9.3" text-anchor="middle" fill="#000">2015</text>
<text transform="translate(118.06,918.80) scale(0.775,1)" font-size="9.3" text-anchor="middle" fill="#000">2016</text>
<text transform="translate(149.82,918.80) scale(0.775,1)" font-size="9.3" text-anchor="middle" fill="#000">2017</text>
<text transform="translate(181.59,918.80) scale(0.775,1)" font-size="9.3" text-anchor="middle" fill="#000">2018</text>
<text transform="translate(213.35,918.80) scale(0.775,1)" font-size="9.3" text-anchor="middle" fill="#000">2019</text>
<text transform="translate(245.11,918.80) scale(0.775,1)" font-size="9.3" text-anchor="middle" fill="#000">2020</text>
<text transform="translate(276.88,918.80) scale(0.775,1)" font-size="9.3" text-anchor="middle" fill="#000">2021</text>
<text transform="translate(300.70,918.80) scale(0.775,1)" font-size="9.3" text-anchor="middle" fill="#000">2022</text>
<text transform="translate(12.86,808.90) rotate(-90) scale(1,0.85)" font-size="8.75" text-anchor="middle" fill="#000">Price</text>
<text transform="translate(322.36,808.10) rotate(-90) scale(1,0.85)" font-size="8.75" text-anchor="middle" fill="#000">Return</text>
<text transform="translate(174.10,929.00) scale(0.78,1)" font-size="9" text-anchor="middle" fill="#000">Year</text>
<text transform="translate(67.30,729.80) scale(0.82,1)" font-size="8.8" text-anchor="start" fill="#000">TU_p</text>
<text transform="translate(67.30,740.80) scale(0.82,1)" font-size="8.8" text-anchor="start" fill="#000">TU_r</text>
</g>
</svg>
</body></html>
